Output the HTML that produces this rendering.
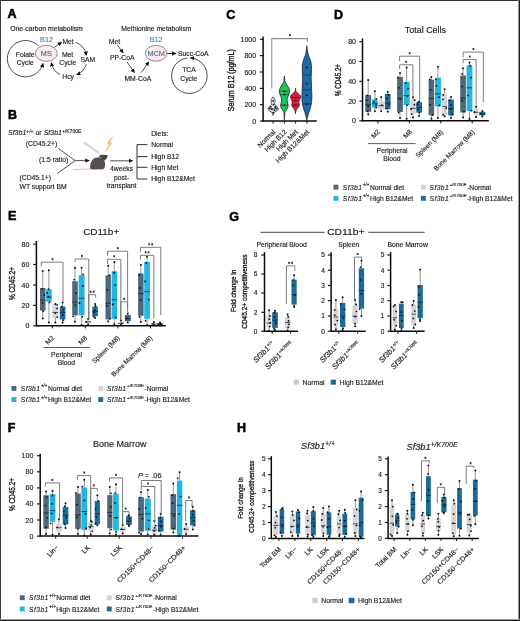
<!DOCTYPE html><html><head><meta charset="utf-8"><style>html,body{margin:0;padding:0;background:#fff;width:520px;height:621px;overflow:hidden}svg{display:block;will-change:transform;font-family:"Liberation Sans",sans-serif}text{stroke:#1e1e1e;stroke-width:0.15px}</style></head><body>
<svg width="520" height="621" viewBox="0 0 520 621" font-family="Liberation Sans, sans-serif" fill="#1e1e1e">
<rect x="0" y="0" width="520" height="621" fill="#fff"/>
<defs><marker id="ah" viewBox="0 0 10 10" refX="9" refY="5" markerWidth="4.3" markerHeight="4.3" markerUnits="userSpaceOnUse" orient="auto"><path d="M0 0L10 5L0 10z" fill="#111"/></marker><marker id="ah2" viewBox="0 0 10 10" refX="9" refY="5" markerWidth="4.2" markerHeight="4.2" markerUnits="userSpaceOnUse" orient="auto"><path d="M0 0L10 5L0 10z" fill="#111"/></marker></defs>
<text x="7.4" y="18.4" font-size="12.5" font-weight="bold" fill="#000" style="stroke:#000;stroke-width:0.55px">A</text>
<text x="10.2" y="31.3" font-size="6.8">One-carbon metabolism</text>
<path d="M38.4 45.8 A18.2 18.2 0 1 0 43.1 63.4" fill="none" stroke="#222" stroke-width="0.8" marker-end="url(#ah)"/>
<ellipse cx="46.3" cy="53.35" rx="10.9" ry="8" fill="#fcecef" stroke="#7d6a70" stroke-width="0.8"/>
<text x="46.3" y="55.9" font-size="7.3" text-anchor="middle" fill="#4a6e90" style="stroke:#4a6e90">MS</text>
<text x="46.5" y="42.1" font-size="7.2" text-anchor="middle" fill="#3b8cc0" style="stroke:#3b8cc0">B12</text>
<text x="25.2" y="57.3" font-size="6.8" text-anchor="middle">Folate</text>
<text x="25.2" y="65.4" font-size="6.8" text-anchor="middle">Cycle</text>
<path d="M54.4 47.4 L61.6 42.2" fill="none" stroke="#222" stroke-width="0.8" marker-end="url(#ah)"/>
<text x="68.1" y="43.7" font-size="6.8" text-anchor="middle">Met</text>
<text x="67.6" y="57.2" font-size="6.8" text-anchor="middle">Met</text>
<text x="67.8" y="65.4" font-size="6.8" text-anchor="middle">Cycle</text>
<text x="87.8" y="62.1" font-size="6.8" text-anchor="middle">SAM</text>
<text x="68.1" y="78.8" font-size="6.8" text-anchor="middle">Hcy</text>
<path d="M75.6 42.2 A17 17 0 0 1 86.4 55.3" fill="none" stroke="#222" stroke-width="0.8" marker-end="url(#ah)"/>
<path d="M86.4 64.2 A17 17 0 0 1 76.6 74.6" fill="none" stroke="#222" stroke-width="0.8" marker-end="url(#ah)"/>
<path d="M60.2 74.8 A17 17 0 0 1 51.4 62.6" fill="none" stroke="#222" stroke-width="0.8" marker-end="url(#ah)"/>
<text x="121.3" y="31.2" font-size="6.8">Methionine metabolism</text>
<text x="114.5" y="44" font-size="6.8" text-anchor="middle">Met</text>
<path d="M117.4 45.2 L123.2 52.9" fill="none" stroke="#222" stroke-width="0.8" marker-end="url(#ah)"/>
<text x="122.2" y="60" font-size="6.8" text-anchor="middle">PP-CoA</text>
<path d="M127 62 L134.5 72.6" fill="none" stroke="#222" stroke-width="0.8" marker-end="url(#ah)"/>
<text x="137.8" y="80.6" font-size="6.8" text-anchor="middle">MM-CoA</text>
<path d="M141.3 72.6 L148.8 61.8" fill="none" stroke="#222" stroke-width="0.8" marker-end="url(#ah)"/>
<text x="156.1" y="42.2" font-size="7.2" text-anchor="middle" fill="#3b8cc0" style="stroke:#3b8cc0">B12</text>
<ellipse cx="156.1" cy="53.3" rx="10.8" ry="7.9" fill="#fcecef" stroke="#7d6a70" stroke-width="0.8"/>
<text x="156.1" y="55.8" font-size="7.3" text-anchor="middle" fill="#4a6e90" style="stroke:#4a6e90">MCM</text>
<path d="M167 53.5 L176 53.5" fill="none" stroke="#222" stroke-width="0.9" marker-end="url(#ah)"/>
<text x="178" y="55.5" font-size="6.8">Succ-CoA</text>
<path d="M187.2 58 A17.8 17.8 0 1 0 190.4 57.9" fill="none" stroke="#222" stroke-width="0.8" marker-end="url(#ah)"/>
<text x="189" y="72.3" font-size="6.8" text-anchor="middle">TCA</text>
<text x="188.8" y="80.7" font-size="6.8" text-anchor="middle">Cycle</text>
<text x="8" y="118.7" font-size="12.5" font-weight="bold" fill="#000" style="stroke:#000;stroke-width:0.55px">B</text>
<text x="8" y="135.2" font-size="7"><tspan font-style="italic">Sf3b1</tspan><tspan font-size="5" dy="-2.6">+/+</tspan><tspan dy="2.6"> or </tspan><tspan font-style="italic">Sf3b1</tspan><tspan font-size="5" dy="-2.6">+/K700E</tspan></text>
<text x="25.8" y="145.7" font-size="6.8">(CD45.2+)</text>
<text x="39.1" y="162" font-size="6.8">(1:5 ratio)</text>
<text x="19.5" y="179.6" font-size="6.8">(CD45.1+)</text>
<text x="19.5" y="188.9" font-size="6.8">WT support BM</text>
<path d="M58.2 148.3 L75.1 160.6 L57.1 173.7" fill="none" stroke="#222" stroke-width="0.8"/>
<path d="M75.1 160.6 L89.2 160.6" fill="none" stroke="#222" stroke-width="0.8" marker-end="url(#ah)"/>
<line x1="84.6" y1="143" x2="98.6" y2="152.8" stroke="#dbe1e4" stroke-width="2.6" stroke-linecap="round"/>
<line x1="86" y1="144" x2="97.4" y2="152" stroke="#a9b5bb" stroke-width="0.7" stroke-dasharray="1.2 1.4"/>
<path d="M112.4 136.6 C110.6 138.4 108.4 141.2 107.2 144.4 L109.2 144.2 C107.8 146.6 106.2 149 105 151.6 C107.8 149.4 110.2 146.2 111.8 142.6 L109.9 142.8 C111 140.6 112 138.8 112.4 136.6 Z" fill="#f5be62" stroke="#f9d896" stroke-width="0.9" stroke-linejoin="round"/>
<path d="M73 170 Q81 168.8 91 169" fill="none" stroke="#ddb0b6" stroke-width="0.9"/>
<path d="M90.2 168.6 C89.6 163 92.2 158 97.2 157.6 C101.2 157.3 104.6 159.6 105 163.2 C105.3 166 104.6 168.7 103 169.3 L91.5 169.4 Z" fill="#564d4f"/>
<path d="M98.8 156 L101 154.8 L107.7 155.1 L106.9 158 L104.8 160.6 L100.4 160.4 Z" fill="#4a4345"/>
<circle cx="100.6" cy="157.6" r="0.9" fill="#a88d90"/>
<path d="M110.2 160.8 L132.6 160.8" fill="none" stroke="#222" stroke-width="0.8" marker-end="url(#ah)"/>
<text x="121.6" y="171" font-size="6.8" text-anchor="middle">4weeks</text>
<text x="121.6" y="179.5" font-size="6.8" text-anchor="middle">post-</text>
<text x="121.6" y="187.9" font-size="6.8" text-anchor="middle">transplant</text>
<path d="M147.4 144.6 H137 V179 H147.4 M137 156.6 H147.4 M137 167.3 H147.4" fill="none" stroke="#262626" stroke-width="0.95"/>
<text x="151.2" y="136.3" font-size="6.8">Diets:</text>
<text x="151.2" y="147.1" font-size="6.8">Normal</text>
<text x="151.2" y="159" font-size="6.8">High B12</text>
<text x="151.2" y="169.7" font-size="6.8">High Met</text>
<text x="151.2" y="181" font-size="6.8">High B12&amp;Met</text>
<text x="226.3" y="18.6" font-size="12.5" font-weight="bold" fill="#000" style="stroke:#000;stroke-width:0.55px">C</text>
<line x1="263.1" y1="36.5" x2="263.1" y2="121.6" stroke="#0a0a0a" stroke-width="1.5"/>
<line x1="259.9" y1="39.3" x2="263.1" y2="39.3" stroke="#1a1a1a" stroke-width="1.2"/>
<text x="256.1" y="41.82" font-size="7" text-anchor="end">1000</text>
<line x1="259.9" y1="55.6" x2="263.1" y2="55.6" stroke="#1a1a1a" stroke-width="1.2"/>
<text x="256.1" y="58.12" font-size="7" text-anchor="end">800</text>
<line x1="259.9" y1="72" x2="263.1" y2="72" stroke="#1a1a1a" stroke-width="1.2"/>
<text x="256.1" y="74.52" font-size="7" text-anchor="end">600</text>
<line x1="259.9" y1="88.4" x2="263.1" y2="88.4" stroke="#1a1a1a" stroke-width="1.2"/>
<text x="256.1" y="90.92" font-size="7" text-anchor="end">400</text>
<line x1="259.9" y1="104.7" x2="263.1" y2="104.7" stroke="#1a1a1a" stroke-width="1.2"/>
<text x="256.1" y="107.22" font-size="7" text-anchor="end">200</text>
<line x1="259.9" y1="121" x2="263.1" y2="121" stroke="#1a1a1a" stroke-width="1.2"/>
<text x="256.1" y="123.52" font-size="7" text-anchor="end">0</text>
<text transform="translate(234.2 80.2) rotate(-90)" font-size="8.4" style="stroke-width:0.38px" text-anchor="middle" textLength="62" lengthAdjust="spacingAndGlyphs">Serum B12 (pg/mL)</text>
<path d="M271.8 88.4 V38.6 H307.5 V42" fill="none" stroke="#8f8f8f" stroke-width="1.1"/>
<path d="M290 33.9l0 2.2M289.05 34.45l1.9 1.1M289.05 35.55l1.9 -1.1" stroke="#222" stroke-width="0.75" fill="none"/>
<path d="M273.1 96.8C273.23 97 273.6 97.58 273.9 98C274.2 98.42 274.68 98.87 274.9 99.3C275.12 99.73 275.18 100.15 275.2 100.6C275.22 101.05 275.1 101.5 275 102C274.9 102.5 274.58 103.1 274.6 103.6C274.62 104.1 274.75 104.52 275.1 105C275.45 105.48 276.23 106 276.7 106.5C277.17 107 277.65 107.58 277.9 108C278.15 108.42 278.23 108.63 278.2 109C278.17 109.37 278.05 109.83 277.7 110.2C277.35 110.57 276.62 110.87 276.1 111.2C275.58 111.53 275 111.82 274.6 112.2C274.2 112.58 273.95 113 273.7 113.5C273.45 114 273.2 114.92 273.1 115.2C273 115.48 273.2 115.48 273.1 115.2C273 114.92 272.75 114 272.5 113.5C272.25 113 272 112.58 271.6 112.2C271.2 111.82 270.62 111.53 270.1 111.2C269.58 110.87 268.85 110.57 268.5 110.2C268.15 109.83 268.03 109.37 268 109C267.97 108.63 268.05 108.42 268.3 108C268.55 107.58 269.03 107 269.5 106.5C269.97 106 270.75 105.48 271.1 105C271.45 104.52 271.58 104.1 271.6 103.6C271.62 103.1 271.3 102.5 271.2 102C271.1 101.5 270.98 101.05 271 100.6C271.02 100.15 271.08 99.73 271.3 99.3C271.52 98.87 272 98.42 272.3 98C272.6 97.58 272.97 97 273.1 96.8Z" fill="#e4e4e4" stroke="#111" stroke-width="0.7" stroke-linejoin="round"/>
<circle cx="273.1" cy="100.8" r="0.9" fill="#111"/>
<circle cx="269.7" cy="108.4" r="0.9" fill="#111"/>
<circle cx="276.5" cy="108.4" r="0.9" fill="#111"/>
<circle cx="271.9" cy="109.4" r="0.9" fill="#111"/>
<circle cx="274.5" cy="110.2" r="0.9" fill="#111"/>
<circle cx="270.9" cy="106.8" r="0.9" fill="#111"/>
<circle cx="275.3" cy="107" r="0.9" fill="#111"/>
<circle cx="273.1" cy="112.6" r="0.9" fill="#111"/>
<circle cx="273.5" cy="104.6" r="0.9" fill="#111"/>
<line x1="268.4" y1="108.6" x2="277.8" y2="108.6" stroke="#111" stroke-width="0.6"/>
<path d="M284.4 75.8C284.46 76.33 284.65 78.05 284.75 79C284.85 79.95 284.79 80.75 285 81.5C285.21 82.25 285.57 82.75 286 83.5C286.43 84.25 287.12 85.17 287.6 86C288.08 86.83 288.58 87.63 288.9 88.5C289.22 89.37 289.48 90.28 289.5 91.2C289.52 92.12 289.27 93.07 289 94C288.73 94.93 288.2 95.88 287.9 96.8C287.6 97.72 287.28 98.63 287.2 99.5C287.12 100.37 287.28 101.25 287.4 102C287.52 102.75 287.78 103.25 287.9 104C288.02 104.75 288.22 105.7 288.1 106.5C287.98 107.3 287.57 108.12 287.2 108.8C286.83 109.48 286.27 110.07 285.9 110.6C285.53 111.13 285.19 111.35 285 112C284.81 112.65 284.85 113.25 284.75 114.5C284.65 115.75 284.46 118.67 284.4 119.5C284.34 120.33 284.46 120.33 284.4 119.5C284.34 118.67 284.15 115.75 284.05 114.5C283.95 113.25 283.99 112.65 283.8 112C283.61 111.35 283.27 111.13 282.9 110.6C282.53 110.07 281.97 109.48 281.6 108.8C281.23 108.12 280.82 107.3 280.7 106.5C280.58 105.7 280.78 104.75 280.9 104C281.02 103.25 281.28 102.75 281.4 102C281.52 101.25 281.68 100.37 281.6 99.5C281.52 98.63 281.2 97.72 280.9 96.8C280.6 95.88 280.07 94.93 279.8 94C279.53 93.07 279.28 92.12 279.3 91.2C279.32 90.28 279.58 89.37 279.9 88.5C280.22 87.63 280.72 86.83 281.2 86C281.68 85.17 282.37 84.25 282.8 83.5C283.23 82.75 283.59 82.25 283.8 81.5C284.01 80.75 283.95 79.95 284.05 79C284.15 78.05 284.34 76.33 284.4 75.8Z" fill="#1fc15a" stroke="#111" stroke-width="0.7" stroke-linejoin="round"/>
<line x1="280.4" y1="91.2" x2="288.4" y2="91.2" stroke="#0b3d1c" stroke-width="0.6"/>
<line x1="280.4" y1="94.6" x2="288.4" y2="94.6" stroke="#0b3d1c" stroke-width="0.6"/>
<line x1="280.4" y1="105.1" x2="288.4" y2="105.1" stroke="#0b3d1c" stroke-width="0.6"/>
<circle cx="284.4" cy="91.2" r="0.9" fill="#111"/>
<circle cx="284.4" cy="94.6" r="0.9" fill="#111"/>
<circle cx="284.4" cy="105.1" r="0.9" fill="#111"/>
<path d="M295.5 88.3C295.56 88.67 295.7 89.88 295.85 90.5C296 91.12 296.04 91.5 296.4 92C296.76 92.5 297.45 93 298 93.5C298.55 94 299.27 94.45 299.7 95C300.13 95.55 300.53 96.17 300.6 96.8C300.67 97.43 300.37 98.18 300.1 98.8C299.83 99.42 299.23 100.03 299 100.5C298.77 100.97 298.7 101.13 298.7 101.6C298.7 102.07 298.92 102.72 299 103.3C299.08 103.88 299.28 104.48 299.2 105.1C299.12 105.72 298.82 106.42 298.5 107C298.18 107.58 297.67 108.13 297.3 108.6C296.93 109.07 296.54 109.32 296.3 109.8C296.06 110.28 295.98 110.9 295.85 111.5C295.72 112.1 295.56 113.08 295.5 113.4C295.44 113.72 295.56 113.72 295.5 113.4C295.44 113.08 295.28 112.1 295.15 111.5C295.02 110.9 294.94 110.28 294.7 109.8C294.46 109.32 294.07 109.07 293.7 108.6C293.33 108.13 292.82 107.58 292.5 107C292.18 106.42 291.88 105.72 291.8 105.1C291.72 104.48 291.92 103.88 292 103.3C292.08 102.72 292.3 102.07 292.3 101.6C292.3 101.13 292.23 100.97 292 100.5C291.77 100.03 291.17 99.42 290.9 98.8C290.63 98.18 290.33 97.43 290.4 96.8C290.47 96.17 290.87 95.55 291.3 95C291.73 94.45 292.45 94 293 93.5C293.55 93 294.24 92.5 294.6 92C294.96 91.5 295 91.12 295.15 90.5C295.3 89.88 295.44 88.67 295.5 88.3Z" fill="#e2183f" stroke="#111" stroke-width="0.7" stroke-linejoin="round"/>
<line x1="291.4" y1="97.6" x2="299.6" y2="97.6" stroke="#4a0612" stroke-width="0.6"/>
<line x1="291.4" y1="100.6" x2="299.6" y2="100.6" stroke="#4a0612" stroke-width="0.6"/>
<line x1="291.4" y1="105.1" x2="299.6" y2="105.1" stroke="#4a0612" stroke-width="0.6"/>
<circle cx="295.5" cy="97.6" r="0.9" fill="#111"/>
<circle cx="295.5" cy="105.1" r="0.9" fill="#111"/>
<path d="M306.9 45.6C306.98 46.33 307.2 48.6 307.4 50C307.6 51.4 307.78 52.77 308.1 54C308.42 55.23 308.9 56.33 309.3 57.4C309.7 58.47 310.18 59.38 310.5 60.4C310.82 61.42 311.03 62.4 311.2 63.5C311.37 64.6 311.47 65.58 311.5 67C311.53 68.42 311.45 70.17 311.4 72C311.35 73.83 311.2 76 311.2 78C311.2 80 311.33 82.08 311.4 84C311.47 85.92 311.52 87.67 311.6 89.5C311.67 91.33 311.81 93.33 311.85 95C311.89 96.67 311.94 98 311.85 99.5C311.76 101 311.52 102.67 311.3 104C311.07 105.33 310.78 106.42 310.5 107.5C310.22 108.58 309.9 109.58 309.6 110.5C309.3 111.42 308.97 112.17 308.7 113C308.43 113.83 308.22 114.7 308 115.5C307.78 116.3 307.58 116.98 307.4 117.8C307.22 118.62 306.98 119.97 306.9 120.4C306.82 120.83 306.98 120.83 306.9 120.4C306.82 119.97 306.58 118.62 306.4 117.8C306.22 116.98 306.02 116.3 305.8 115.5C305.58 114.7 305.37 113.83 305.1 113C304.83 112.17 304.5 111.42 304.2 110.5C303.9 109.58 303.58 108.58 303.3 107.5C303.02 106.42 302.73 105.33 302.5 104C302.27 102.67 302.04 101 301.95 99.5C301.86 98 301.91 96.67 301.95 95C301.99 93.33 302.12 91.33 302.2 89.5C302.27 87.67 302.33 85.92 302.4 84C302.47 82.08 302.6 80 302.6 78C302.6 76 302.45 73.83 302.4 72C302.35 70.17 302.27 68.42 302.3 67C302.33 65.58 302.43 64.6 302.6 63.5C302.77 62.4 302.98 61.42 303.3 60.4C303.62 59.38 304.1 58.47 304.5 57.4C304.9 56.33 305.38 55.23 305.7 54C306.02 52.77 306.2 51.4 306.4 50C306.6 48.6 306.82 46.33 306.9 45.6Z" fill="#1c6aa6" stroke="#111" stroke-width="0.7" stroke-linejoin="round"/>
<line x1="302.6" y1="75" x2="311" y2="75" stroke="#0a2a44" stroke-width="0.6"/>
<line x1="302.6" y1="89.6" x2="311" y2="89.6" stroke="#0a2a44" stroke-width="0.6"/>
<line x1="302.6" y1="103.8" x2="311" y2="103.8" stroke="#0a2a44" stroke-width="0.6"/>
<circle cx="306.8" cy="67.4" r="0.9" fill="#111"/>
<circle cx="306.8" cy="83.6" r="0.9" fill="#111"/>
<circle cx="306.8" cy="95.4" r="0.9" fill="#111"/>
<circle cx="306.8" cy="104.2" r="0.9" fill="#111"/>
<line x1="262.4" y1="121" x2="316.8" y2="121" stroke="#0a0a0a" stroke-width="1.5"/>
<line x1="273.1" y1="121" x2="273.1" y2="123.6" stroke="#1a1a1a" stroke-width="1"/>
<line x1="284.4" y1="121" x2="284.4" y2="123.6" stroke="#1a1a1a" stroke-width="1"/>
<line x1="295.6" y1="121" x2="295.6" y2="123.6" stroke="#1a1a1a" stroke-width="1"/>
<line x1="306.9" y1="121" x2="306.9" y2="123.6" stroke="#1a1a1a" stroke-width="1"/>
<text transform="translate(275.9 132.4) rotate(-45)" font-size="6.85" text-anchor="end">Normal</text>
<text transform="translate(287.2 132.4) rotate(-45)" font-size="6.85" text-anchor="end">High B12</text>
<text transform="translate(298.4 132.4) rotate(-45)" font-size="6.85" text-anchor="end">High Met</text>
<text transform="translate(309.7 132.4) rotate(-45)" font-size="6.85" text-anchor="end">High B12&amp;Met</text>
<text x="334" y="18.6" font-size="12.5" font-weight="bold" fill="#000" style="stroke:#000;stroke-width:0.55px">D</text>
<text x="425.4" y="33" font-size="8.7" text-anchor="middle" textLength="41.2" lengthAdjust="spacingAndGlyphs">Total Cells</text>
<line x1="362.5" y1="38.4" x2="362.5" y2="121.4" stroke="#0a0a0a" stroke-width="1.5"/>
<line x1="359.3" y1="41.7" x2="362.5" y2="41.7" stroke="#1a1a1a" stroke-width="1.2"/>
<text x="356" y="44.22" font-size="7" text-anchor="end">80</text>
<line x1="359.3" y1="61.5" x2="362.5" y2="61.5" stroke="#1a1a1a" stroke-width="1.2"/>
<text x="356" y="64.02" font-size="7" text-anchor="end">60</text>
<line x1="359.3" y1="81.3" x2="362.5" y2="81.3" stroke="#1a1a1a" stroke-width="1.2"/>
<text x="356" y="83.82" font-size="7" text-anchor="end">40</text>
<line x1="359.3" y1="101.1" x2="362.5" y2="101.1" stroke="#1a1a1a" stroke-width="1.2"/>
<text x="356" y="103.62" font-size="7" text-anchor="end">20</text>
<line x1="359.3" y1="120.8" x2="362.5" y2="120.8" stroke="#1a1a1a" stroke-width="1.2"/>
<text x="356" y="123.32" font-size="7" text-anchor="end">0</text>
<text transform="translate(341.2 80) rotate(-90)" font-size="9.2" style="stroke-width:0.38px" text-anchor="middle" textLength="32" lengthAdjust="spacingAndGlyphs">% CD45.2+</text>
<line x1="368.2" y1="79.9" x2="368.2" y2="114.5" stroke="#8a8a8a" stroke-width="0.9"/>
<rect x="365.2" y="95.1" width="6" height="16.7" fill="#4f6879"/>
<line x1="365.2" y1="104.8" x2="371.2" y2="104.8" stroke="#1a1a1a" stroke-width="0.7"/>
<circle cx="368.2" cy="79.9" r="1" fill="#111"/>
<circle cx="368.2" cy="114.5" r="1" fill="#111"/>
<circle cx="367.38" cy="95.45" r="0.9" fill="#111"/>
<circle cx="366.55" cy="100.14" r="0.9" fill="#111"/>
<circle cx="368.16" cy="106.16" r="0.9" fill="#111"/>
<circle cx="367.65" cy="111.31" r="0.9" fill="#111"/>
<line x1="374.9" y1="91.2" x2="374.9" y2="111.3" stroke="#8a8a8a" stroke-width="0.9"/>
<rect x="372" y="99.3" width="5.8" height="8.3" fill="#22b6e3"/>
<line x1="372" y1="103.66" x2="377.8" y2="103.66" stroke="#1a1a1a" stroke-width="0.7"/>
<circle cx="374.9" cy="91.2" r="1" fill="#111"/>
<circle cx="374.9" cy="111.3" r="1" fill="#111"/>
<circle cx="376.22" cy="98.97" r="0.9" fill="#111"/>
<circle cx="374.08" cy="101.93" r="0.9" fill="#111"/>
<circle cx="376.08" cy="105.18" r="0.9" fill="#111"/>
<circle cx="376.12" cy="107.56" r="0.9" fill="#111"/>
<line x1="381.2" y1="96.9" x2="381.2" y2="111.3" stroke="#8a8a8a" stroke-width="0.9"/>
<rect x="378.3" y="101.4" width="5.8" height="7.8" fill="#d6d4da"/>
<line x1="378.3" y1="105.75" x2="384.1" y2="105.75" stroke="#1a1a1a" stroke-width="0.7"/>
<circle cx="381.2" cy="96.9" r="1" fill="#111"/>
<circle cx="381.2" cy="111.3" r="1" fill="#111"/>
<circle cx="381.71" cy="105.07" r="0.9" fill="#111"/>
<line x1="387.75" y1="92" x2="387.75" y2="111.8" stroke="#8a8a8a" stroke-width="0.9"/>
<rect x="384.9" y="94" width="5.7" height="15.2" fill="#1b6a98"/>
<line x1="384.9" y1="102.98" x2="390.6" y2="102.98" stroke="#1a1a1a" stroke-width="0.7"/>
<circle cx="387.75" cy="92" r="1" fill="#111"/>
<circle cx="387.75" cy="111.8" r="1" fill="#111"/>
<circle cx="388.61" cy="94.87" r="0.9" fill="#111"/>
<circle cx="387.07" cy="98.46" r="0.9" fill="#111"/>
<circle cx="388.58" cy="104.32" r="0.9" fill="#111"/>
<circle cx="386.44" cy="108.32" r="0.9" fill="#111"/>
<line x1="400" y1="73" x2="400" y2="118.1" stroke="#8a8a8a" stroke-width="0.9"/>
<rect x="397.1" y="77" width="5.8" height="35" fill="#4f6879"/>
<line x1="397.1" y1="98.23" x2="402.9" y2="98.23" stroke="#1a1a1a" stroke-width="0.7"/>
<circle cx="400" cy="73" r="1" fill="#111"/>
<circle cx="400" cy="118.1" r="1" fill="#111"/>
<circle cx="398.14" cy="77.41" r="0.9" fill="#111"/>
<circle cx="398.97" cy="87.74" r="0.9" fill="#111"/>
<circle cx="400.06" cy="99.32" r="0.9" fill="#111"/>
<circle cx="398.71" cy="112.61" r="0.9" fill="#111"/>
<line x1="406.65" y1="67.4" x2="406.65" y2="118.7" stroke="#8a8a8a" stroke-width="0.9"/>
<rect x="403.6" y="81.9" width="6.1" height="23.1" fill="#22b6e3"/>
<line x1="403.6" y1="95.61" x2="409.7" y2="95.61" stroke="#1a1a1a" stroke-width="0.7"/>
<circle cx="406.65" cy="67.4" r="1" fill="#111"/>
<circle cx="406.65" cy="118.7" r="1" fill="#111"/>
<circle cx="405.82" cy="83.21" r="0.9" fill="#111"/>
<circle cx="408.08" cy="88.53" r="0.9" fill="#111"/>
<circle cx="407.52" cy="95.88" r="0.9" fill="#111"/>
<circle cx="407.11" cy="105.14" r="0.9" fill="#111"/>
<line x1="413.05" y1="97.3" x2="413.05" y2="117.4" stroke="#8a8a8a" stroke-width="0.9"/>
<rect x="410.3" y="100.3" width="5.5" height="13.7" fill="#d6d4da"/>
<line x1="410.3" y1="108.38" x2="415.8" y2="108.38" stroke="#1a1a1a" stroke-width="0.7"/>
<circle cx="413.05" cy="97.3" r="1" fill="#111"/>
<circle cx="413.05" cy="117.4" r="1" fill="#111"/>
<circle cx="414.61" cy="100.13" r="0.9" fill="#111"/>
<circle cx="414.33" cy="104.6" r="0.9" fill="#111"/>
<circle cx="411.19" cy="109" r="0.9" fill="#111"/>
<circle cx="411.55" cy="114.1" r="0.9" fill="#111"/>
<line x1="419.15" y1="101.4" x2="419.15" y2="116" stroke="#8a8a8a" stroke-width="0.9"/>
<rect x="416.3" y="102.3" width="5.7" height="10.3" fill="#1b6a98"/>
<line x1="416.3" y1="107.7" x2="422" y2="107.7" stroke="#1a1a1a" stroke-width="0.7"/>
<circle cx="419.15" cy="101.4" r="1" fill="#111"/>
<circle cx="419.15" cy="116" r="1" fill="#111"/>
<circle cx="417.75" cy="102.68" r="0.9" fill="#111"/>
<circle cx="417.44" cy="104.88" r="0.9" fill="#111"/>
<circle cx="417.94" cy="109.49" r="0.9" fill="#111"/>
<circle cx="419.35" cy="112.59" r="0.9" fill="#111"/>
<line x1="431.4" y1="77" x2="431.4" y2="118.8" stroke="#8a8a8a" stroke-width="0.9"/>
<rect x="428.6" y="79.7" width="5.6" height="35.6" fill="#4f6879"/>
<line x1="428.6" y1="98.4" x2="434.2" y2="98.4" stroke="#1a1a1a" stroke-width="0.7"/>
<circle cx="431.4" cy="77" r="1" fill="#111"/>
<circle cx="431.4" cy="118.8" r="1" fill="#111"/>
<circle cx="429.83" cy="79.5" r="0.9" fill="#111"/>
<circle cx="430.65" cy="89.85" r="0.9" fill="#111"/>
<circle cx="429.92" cy="104.74" r="0.9" fill="#111"/>
<circle cx="432.54" cy="115.02" r="0.9" fill="#111"/>
<line x1="437.95" y1="66.7" x2="437.95" y2="118.1" stroke="#8a8a8a" stroke-width="0.9"/>
<rect x="435" y="77.7" width="5.9" height="28.7" fill="#22b6e3"/>
<line x1="435" y1="93.86" x2="440.9" y2="93.86" stroke="#1a1a1a" stroke-width="0.7"/>
<circle cx="437.95" cy="66.7" r="1" fill="#111"/>
<circle cx="437.95" cy="118.1" r="1" fill="#111"/>
<circle cx="435.97" cy="79.29" r="0.9" fill="#111"/>
<circle cx="436.54" cy="85.79" r="0.9" fill="#111"/>
<circle cx="438.98" cy="97.11" r="0.9" fill="#111"/>
<circle cx="439.32" cy="105.31" r="0.9" fill="#111"/>
<line x1="444.6" y1="89.3" x2="444.6" y2="116.2" stroke="#8a8a8a" stroke-width="0.9"/>
<rect x="442.2" y="93.7" width="4.8" height="21.7" fill="#d6d4da"/>
<line x1="442.2" y1="106.5" x2="447" y2="106.5" stroke="#1a1a1a" stroke-width="0.7"/>
<circle cx="444.6" cy="89.3" r="1" fill="#111"/>
<circle cx="444.6" cy="116.2" r="1" fill="#111"/>
<circle cx="443.1" cy="94.98" r="0.9" fill="#111"/>
<circle cx="443.02" cy="99.33" r="0.9" fill="#111"/>
<circle cx="446.26" cy="108.27" r="0.9" fill="#111"/>
<circle cx="443.05" cy="114.73" r="0.9" fill="#111"/>
<line x1="451" y1="97" x2="451" y2="117.9" stroke="#8a8a8a" stroke-width="0.9"/>
<rect x="448.2" y="99.5" width="5.6" height="15.9" fill="#1b6a98"/>
<line x1="448.2" y1="108.69" x2="453.8" y2="108.69" stroke="#1a1a1a" stroke-width="0.7"/>
<circle cx="451" cy="97" r="1" fill="#111"/>
<circle cx="451" cy="117.9" r="1" fill="#111"/>
<circle cx="449.66" cy="100.28" r="0.9" fill="#111"/>
<circle cx="450.76" cy="104.96" r="0.9" fill="#111"/>
<circle cx="450.99" cy="109.19" r="0.9" fill="#111"/>
<circle cx="452.1" cy="114.45" r="0.9" fill="#111"/>
<line x1="463.05" y1="68.3" x2="463.05" y2="117.6" stroke="#8a8a8a" stroke-width="0.9"/>
<rect x="460.2" y="75.6" width="5.7" height="36.9" fill="#4f6879"/>
<line x1="460.2" y1="98.08" x2="465.9" y2="98.08" stroke="#1a1a1a" stroke-width="0.7"/>
<circle cx="463.05" cy="68.3" r="1" fill="#111"/>
<circle cx="463.05" cy="117.6" r="1" fill="#111"/>
<circle cx="462.22" cy="73.96" r="0.9" fill="#111"/>
<circle cx="461.93" cy="86.45" r="0.9" fill="#111"/>
<circle cx="462.03" cy="100.65" r="0.9" fill="#111"/>
<circle cx="463.9" cy="111.53" r="0.9" fill="#111"/>
<line x1="469.5" y1="62.5" x2="469.5" y2="119" stroke="#8a8a8a" stroke-width="0.9"/>
<rect x="466.6" y="65.4" width="5.8" height="45.7" fill="#22b6e3"/>
<line x1="466.6" y1="87.88" x2="472.4" y2="87.88" stroke="#1a1a1a" stroke-width="0.7"/>
<circle cx="469.5" cy="62.5" r="1" fill="#111"/>
<circle cx="469.5" cy="119" r="1" fill="#111"/>
<circle cx="470.2" cy="65.95" r="0.9" fill="#111"/>
<circle cx="471.04" cy="77.54" r="0.9" fill="#111"/>
<circle cx="468.01" cy="95.42" r="0.9" fill="#111"/>
<circle cx="471.48" cy="110.72" r="0.9" fill="#111"/>
<line x1="476.05" y1="106.7" x2="476.05" y2="117" stroke="#8a8a8a" stroke-width="0.9"/>
<rect x="473.6" y="108.9" width="4.9" height="6.5" fill="#d6d4da"/>
<line x1="473.6" y1="112.32" x2="478.5" y2="112.32" stroke="#1a1a1a" stroke-width="0.7"/>
<circle cx="476.05" cy="106.7" r="1" fill="#111"/>
<circle cx="476.05" cy="117" r="1" fill="#111"/>
<circle cx="474.54" cy="111.98" r="0.9" fill="#111"/>
<line x1="482.3" y1="111" x2="482.3" y2="116.5" stroke="#8a8a8a" stroke-width="0.9"/>
<rect x="479.3" y="111.8" width="6" height="3.6" fill="#1b6a98"/>
<line x1="479.3" y1="113.94" x2="485.3" y2="113.94" stroke="#1a1a1a" stroke-width="0.7"/>
<circle cx="482.3" cy="111" r="1" fill="#111"/>
<circle cx="482.3" cy="116.5" r="1" fill="#111"/>
<circle cx="481.13" cy="113.54" r="0.9" fill="#111"/>
<path d="M399.6 61.2V56.2H419.7V100.3" fill="none" stroke="#6e6e6e" stroke-width="0.9"/>
<path d="M409.6 52.1l0 2.2M408.65 52.65l1.9 1.1M408.65 53.75l1.9 -1.1" stroke="#222" stroke-width="0.75" fill="none"/>
<path d="M399.6 68.9V64.8H412.9V97.4" fill="none" stroke="#6e6e6e" stroke-width="0.9"/>
<path d="M406.2 60.7l0 2.2M405.25 61.25l1.9 1.1M405.25 62.35l1.9 -1.1" stroke="#222" stroke-width="0.75" fill="none"/>
<path d="M463.1 57.5V52.1H483.3V102.4" fill="none" stroke="#6e6e6e" stroke-width="0.9"/>
<path d="M473.4 48l0 2.2M472.45 48.55l1.9 1.1M472.45 49.65l1.9 -1.1" stroke="#222" stroke-width="0.75" fill="none"/>
<path d="M463.1 63.3V59.6H476.2V106" fill="none" stroke="#6e6e6e" stroke-width="0.9"/>
<path d="M469.8 55.5l0 2.2M468.85 56.05l1.9 1.1M468.85 57.15l1.9 -1.1" stroke="#222" stroke-width="0.75" fill="none"/>
<line x1="361.8" y1="120.8" x2="488.8" y2="120.8" stroke="#0a0a0a" stroke-width="1.5"/>
<line x1="378" y1="120.8" x2="378" y2="123.4" stroke="#1a1a1a" stroke-width="1"/>
<line x1="409.4" y1="120.8" x2="409.4" y2="123.4" stroke="#1a1a1a" stroke-width="1"/>
<line x1="440.8" y1="120.8" x2="440.8" y2="123.4" stroke="#1a1a1a" stroke-width="1"/>
<line x1="472.2" y1="120.8" x2="472.2" y2="123.4" stroke="#1a1a1a" stroke-width="1"/>
<text transform="translate(380.4 132.2) rotate(-45)" font-size="6.6" text-anchor="end">M2</text>
<text transform="translate(412.4 132.2) rotate(-45)" font-size="6.6" text-anchor="end">M8</text>
<text transform="translate(443.6 132.6) rotate(-45)" font-size="6.6" text-anchor="end">Spleen (M8)</text>
<text transform="translate(475 132.6) rotate(-45)" font-size="6.6" text-anchor="end">Bone Marrow (M8)</text>
<line x1="368.1" y1="143.6" x2="415.6" y2="143.6" stroke="#333" stroke-width="0.8"/>
<text x="392.1" y="153.2" font-size="6.8" text-anchor="middle">Peripheral</text>
<text x="391.9" y="161" font-size="6.8" text-anchor="middle">Blood</text>
<rect x="333.5" y="184.7" width="4.9" height="4.9" fill="#4f6879"/>
<rect x="333.5" y="195.9" width="4.9" height="4.9" fill="#22b6e3"/>
<rect x="420.9" y="184.7" width="4.9" height="4.9" fill="#d6d4da"/>
<rect x="420.9" y="195.9" width="4.9" height="4.9" fill="#1b6a98"/>
<text x="342.8" y="189.8" font-size="6.7"><tspan font-style="italic" letter-spacing="0.42">Sf3b1</tspan><tspan font-size="4.5" dx="0.6" dy="-3.69">+/+</tspan><tspan dx="0.5" dy="3.69">Normal diet</tspan></text>
<text x="342.8" y="201" font-size="6.7"><tspan font-style="italic" letter-spacing="0.42">Sf3b1</tspan><tspan font-size="4.5" dx="0.6" dy="-3.69">+/+</tspan><tspan dx="0.5" dy="3.69">High B12&amp;Met</tspan></text>
<text x="429.5" y="189.8" font-size="6.7"><tspan font-style="italic" letter-spacing="0.42">Sf3b1</tspan><tspan font-size="4.4" dx="0.6" dy="-3.69">+/K700E</tspan><tspan dx="0.5" dy="3.69">-Normal</tspan></text>
<text x="429.5" y="201" font-size="6.7"><tspan font-style="italic" letter-spacing="0.42">Sf3b1</tspan><tspan font-size="4.4" dx="0.6" dy="-3.69">+/K700E</tspan><tspan dx="0.5" dy="3.69">-High B12&amp;Met</tspan></text>
<text x="8" y="220.4" font-size="12.5" font-weight="bold" fill="#000" style="stroke:#000;stroke-width:0.55px">E</text>
<text x="101.2" y="235" font-size="8.7" text-anchor="middle" textLength="36.1" lengthAdjust="spacingAndGlyphs">CD11b+</text>
<line x1="36.4" y1="241" x2="36.4" y2="326.4" stroke="#0a0a0a" stroke-width="1.5"/>
<line x1="33.2" y1="244.1" x2="36.4" y2="244.1" stroke="#1a1a1a" stroke-width="1.2"/>
<text x="29.4" y="246.62" font-size="7" text-anchor="end">80</text>
<line x1="33.2" y1="264.5" x2="36.4" y2="264.5" stroke="#1a1a1a" stroke-width="1.2"/>
<text x="29.4" y="267.02" font-size="7" text-anchor="end">60</text>
<line x1="33.2" y1="285" x2="36.4" y2="285" stroke="#1a1a1a" stroke-width="1.2"/>
<text x="29.4" y="287.52" font-size="7" text-anchor="end">40</text>
<line x1="33.2" y1="305.4" x2="36.4" y2="305.4" stroke="#1a1a1a" stroke-width="1.2"/>
<text x="29.4" y="307.92" font-size="7" text-anchor="end">20</text>
<line x1="33.2" y1="325.8" x2="36.4" y2="325.8" stroke="#1a1a1a" stroke-width="1.2"/>
<text x="29.4" y="328.32" font-size="7" text-anchor="end">0</text>
<text transform="translate(14.5 283.5) rotate(-90)" font-size="9.2" style="stroke-width:0.38px" text-anchor="middle" textLength="33" lengthAdjust="spacingAndGlyphs">% CD45.2+</text>
<line x1="42.75" y1="271" x2="42.75" y2="318.6" stroke="#8a8a8a" stroke-width="0.9"/>
<rect x="40" y="288" width="5.5" height="22.5" fill="#4f6879"/>
<line x1="40" y1="300.03" x2="45.5" y2="300.03" stroke="#1a1a1a" stroke-width="0.7"/>
<circle cx="42.75" cy="271" r="1" fill="#111"/>
<circle cx="42.75" cy="318.6" r="1" fill="#111"/>
<circle cx="42.29" cy="288.78" r="0.9" fill="#111"/>
<circle cx="44.34" cy="295.1" r="0.9" fill="#111"/>
<circle cx="42.66" cy="302.81" r="0.9" fill="#111"/>
<circle cx="43.23" cy="311.17" r="0.9" fill="#111"/>
<line x1="48.9" y1="270.3" x2="48.9" y2="322.6" stroke="#8a8a8a" stroke-width="0.9"/>
<rect x="46.1" y="289.3" width="5.6" height="12.4" fill="#22b6e3"/>
<line x1="46.1" y1="297.12" x2="51.7" y2="297.12" stroke="#1a1a1a" stroke-width="0.7"/>
<circle cx="48.9" cy="270.3" r="1" fill="#111"/>
<circle cx="48.9" cy="322.6" r="1" fill="#111"/>
<circle cx="48.52" cy="289.08" r="0.9" fill="#111"/>
<circle cx="47.14" cy="292.93" r="0.9" fill="#111"/>
<circle cx="48.72" cy="296.87" r="0.9" fill="#111"/>
<circle cx="49.51" cy="302.33" r="0.9" fill="#111"/>
<line x1="55.35" y1="304" x2="55.35" y2="322.6" stroke="#8a8a8a" stroke-width="0.9"/>
<rect x="52.5" y="304.1" width="5.7" height="13.7" fill="#d6d4da"/>
<line x1="52.5" y1="312.43" x2="58.2" y2="312.43" stroke="#1a1a1a" stroke-width="0.7"/>
<circle cx="55.35" cy="304" r="1" fill="#111"/>
<circle cx="55.35" cy="322.6" r="1" fill="#111"/>
<circle cx="57.14" cy="304.79" r="0.9" fill="#111"/>
<circle cx="57.08" cy="308.47" r="0.9" fill="#111"/>
<circle cx="55.34" cy="313.22" r="0.9" fill="#111"/>
<circle cx="57.23" cy="317.07" r="0.9" fill="#111"/>
<line x1="62.6" y1="302.5" x2="62.6" y2="322.6" stroke="#8a8a8a" stroke-width="0.9"/>
<rect x="59.8" y="306.5" width="5.6" height="12.9" fill="#1b6a98"/>
<line x1="59.8" y1="312.38" x2="65.4" y2="312.38" stroke="#1a1a1a" stroke-width="0.7"/>
<circle cx="62.6" cy="302.5" r="1" fill="#111"/>
<circle cx="62.6" cy="322.6" r="1" fill="#111"/>
<circle cx="61.88" cy="306.67" r="0.9" fill="#111"/>
<circle cx="63.19" cy="309.78" r="0.9" fill="#111"/>
<circle cx="62.98" cy="315.02" r="0.9" fill="#111"/>
<circle cx="63.44" cy="320.03" r="0.9" fill="#111"/>
<line x1="75" y1="267.8" x2="75" y2="321.8" stroke="#8a8a8a" stroke-width="0.9"/>
<rect x="72.2" y="281.2" width="5.6" height="34.1" fill="#4f6879"/>
<line x1="72.2" y1="302.17" x2="77.8" y2="302.17" stroke="#1a1a1a" stroke-width="0.7"/>
<circle cx="75" cy="267.8" r="1" fill="#111"/>
<circle cx="75" cy="321.8" r="1" fill="#111"/>
<circle cx="74.14" cy="279.58" r="0.9" fill="#111"/>
<circle cx="75.95" cy="293.16" r="0.9" fill="#111"/>
<circle cx="75.35" cy="305.03" r="0.9" fill="#111"/>
<circle cx="73.09" cy="316.31" r="0.9" fill="#111"/>
<line x1="81.6" y1="267.8" x2="81.6" y2="325" stroke="#8a8a8a" stroke-width="0.9"/>
<rect x="78.6" y="275.1" width="6" height="40.2" fill="#22b6e3"/>
<line x1="78.6" y1="298.25" x2="84.6" y2="298.25" stroke="#1a1a1a" stroke-width="0.7"/>
<circle cx="81.6" cy="267.8" r="1" fill="#111"/>
<circle cx="81.6" cy="325" r="1" fill="#111"/>
<circle cx="83.04" cy="274.31" r="0.9" fill="#111"/>
<circle cx="82.87" cy="285.93" r="0.9" fill="#111"/>
<circle cx="79.56" cy="303.13" r="0.9" fill="#111"/>
<circle cx="82.35" cy="316.8" r="0.9" fill="#111"/>
<line x1="88.1" y1="319" x2="88.1" y2="324.5" stroke="#8a8a8a" stroke-width="0.9"/>
<rect x="85.2" y="320.5" width="5.8" height="2.9" fill="#d6d4da"/>
<line x1="85.2" y1="321.87" x2="91" y2="321.87" stroke="#1a1a1a" stroke-width="0.7"/>
<circle cx="88.1" cy="319" r="1" fill="#111"/>
<circle cx="88.1" cy="324.5" r="1" fill="#111"/>
<circle cx="86.3" cy="321.79" r="0.9" fill="#111"/>
<line x1="95.05" y1="304.1" x2="95.05" y2="318" stroke="#8a8a8a" stroke-width="0.9"/>
<rect x="92.3" y="306.5" width="5.5" height="9.7" fill="#1b6a98"/>
<line x1="92.3" y1="311.4" x2="97.8" y2="311.4" stroke="#1a1a1a" stroke-width="0.7"/>
<circle cx="95.05" cy="304.1" r="1" fill="#111"/>
<circle cx="95.05" cy="318" r="1" fill="#111"/>
<circle cx="95.55" cy="306.01" r="0.9" fill="#111"/>
<circle cx="94.88" cy="309.89" r="0.9" fill="#111"/>
<circle cx="94.11" cy="312.28" r="0.9" fill="#111"/>
<circle cx="93.6" cy="316.51" r="0.9" fill="#111"/>
<line x1="108.2" y1="265.8" x2="108.2" y2="321.5" stroke="#8a8a8a" stroke-width="0.9"/>
<rect x="105.5" y="275.3" width="5.4" height="44" fill="#4f6879"/>
<line x1="105.5" y1="303.25" x2="110.9" y2="303.25" stroke="#1a1a1a" stroke-width="0.7"/>
<circle cx="108.2" cy="265.8" r="1" fill="#111"/>
<circle cx="108.2" cy="321.5" r="1" fill="#111"/>
<circle cx="109.42" cy="275.17" r="0.9" fill="#111"/>
<circle cx="107.38" cy="289.89" r="0.9" fill="#111"/>
<circle cx="106.88" cy="305.74" r="0.9" fill="#111"/>
<circle cx="109.98" cy="318.63" r="0.9" fill="#111"/>
<line x1="114.35" y1="261.9" x2="114.35" y2="324.2" stroke="#8a8a8a" stroke-width="0.9"/>
<rect x="111.6" y="271.2" width="5.5" height="47.6" fill="#22b6e3"/>
<line x1="111.6" y1="299.65" x2="117.1" y2="299.65" stroke="#1a1a1a" stroke-width="0.7"/>
<circle cx="114.35" cy="261.9" r="1" fill="#111"/>
<circle cx="114.35" cy="324.2" r="1" fill="#111"/>
<circle cx="113.95" cy="272.75" r="0.9" fill="#111"/>
<circle cx="115.05" cy="285.09" r="0.9" fill="#111"/>
<circle cx="112.79" cy="304.47" r="0.9" fill="#111"/>
<circle cx="115.7" cy="317.52" r="0.9" fill="#111"/>
<line x1="120.85" y1="320.4" x2="120.85" y2="325" stroke="#8a8a8a" stroke-width="0.9"/>
<rect x="118.1" y="322.3" width="5.5" height="2.1" fill="#d6d4da"/>
<line x1="118.1" y1="323.34" x2="123.6" y2="323.34" stroke="#1a1a1a" stroke-width="0.7"/>
<circle cx="120.85" cy="320.4" r="1" fill="#111"/>
<circle cx="120.85" cy="325" r="1" fill="#111"/>
<circle cx="121.98" cy="323.33" r="0.9" fill="#111"/>
<line x1="127.8" y1="313.5" x2="127.8" y2="322.5" stroke="#8a8a8a" stroke-width="0.9"/>
<rect x="124.9" y="315" width="5.8" height="6.2" fill="#1b6a98"/>
<line x1="124.9" y1="318.57" x2="130.7" y2="318.57" stroke="#1a1a1a" stroke-width="0.7"/>
<circle cx="127.8" cy="313.5" r="1" fill="#111"/>
<circle cx="127.8" cy="322.5" r="1" fill="#111"/>
<circle cx="126.34" cy="318.43" r="0.9" fill="#111"/>
<line x1="140.85" y1="265" x2="140.85" y2="321.9" stroke="#8a8a8a" stroke-width="0.9"/>
<rect x="138.1" y="273.5" width="5.5" height="42.3" fill="#4f6879"/>
<line x1="138.1" y1="293.65" x2="143.6" y2="293.65" stroke="#1a1a1a" stroke-width="0.7"/>
<circle cx="140.85" cy="265" r="1" fill="#111"/>
<circle cx="140.85" cy="321.9" r="1" fill="#111"/>
<circle cx="139.34" cy="274.67" r="0.9" fill="#111"/>
<circle cx="140.12" cy="288.01" r="0.9" fill="#111"/>
<circle cx="140.77" cy="299.95" r="0.9" fill="#111"/>
<circle cx="139.49" cy="316.95" r="0.9" fill="#111"/>
<line x1="147.05" y1="256.8" x2="147.05" y2="325" stroke="#8a8a8a" stroke-width="0.9"/>
<rect x="144.2" y="261.9" width="5.7" height="56.9" fill="#22b6e3"/>
<line x1="144.2" y1="291.74" x2="149.9" y2="291.74" stroke="#1a1a1a" stroke-width="0.7"/>
<circle cx="147.05" cy="256.8" r="1" fill="#111"/>
<circle cx="147.05" cy="325" r="1" fill="#111"/>
<circle cx="146.34" cy="263" r="0.9" fill="#111"/>
<circle cx="145.12" cy="281.46" r="0.9" fill="#111"/>
<circle cx="148.66" cy="299.72" r="0.9" fill="#111"/>
<circle cx="145.57" cy="320.76" r="0.9" fill="#111"/>
<line x1="153.95" y1="322" x2="153.95" y2="325.3" stroke="#8a8a8a" stroke-width="0.9"/>
<rect x="151.2" y="323" width="5.5" height="2" fill="#d6d4da"/>
<line x1="151.2" y1="323.98" x2="156.7" y2="323.98" stroke="#1a1a1a" stroke-width="0.7"/>
<circle cx="153.95" cy="322" r="1" fill="#111"/>
<circle cx="153.95" cy="325.3" r="1" fill="#111"/>
<circle cx="153.11" cy="324.08" r="0.9" fill="#111"/>
<line x1="160" y1="322.5" x2="160" y2="325.3" stroke="#8a8a8a" stroke-width="0.9"/>
<rect x="157.3" y="323" width="5.4" height="2" fill="#1b6a98"/>
<line x1="157.3" y1="324.26" x2="162.7" y2="324.26" stroke="#1a1a1a" stroke-width="0.7"/>
<circle cx="160" cy="322.5" r="1" fill="#111"/>
<circle cx="160" cy="325.3" r="1" fill="#111"/>
<circle cx="160.9" cy="324.03" r="0.9" fill="#111"/>
<path d="M41.3 266.2V262.2H63V301.7" fill="none" stroke="#6e6e6e" stroke-width="0.9"/>
<path d="M52.5 258.1l0 2.2M51.55 258.65l1.9 1.1M51.55 259.75l1.9 -1.1" stroke="#222" stroke-width="0.75" fill="none"/>
<path d="M75.1 262.2V259H88.8V319.4" fill="none" stroke="#6e6e6e" stroke-width="0.9"/>
<path d="M81.9 254.9l0 2.2M80.95 255.45l1.9 1.1M80.95 256.55l1.9 -1.1" stroke="#222" stroke-width="0.75" fill="none"/>
<path d="M88.8 319.4V294.7H95.7V297.6" fill="none" stroke="#6e6e6e" stroke-width="0.9"/>
<path d="M90.7 290.6l0 2.2M89.75 291.15l1.9 1.1M89.75 292.25l1.9 -1.1" stroke="#222" stroke-width="0.75" fill="none"/>
<path d="M93.7 290.6l0 2.2M92.75 291.15l1.9 1.1M92.75 292.25l1.9 -1.1" stroke="#222" stroke-width="0.75" fill="none"/>
<path d="M107.6 255.8V251.2H127.6V311.9" fill="none" stroke="#6e6e6e" stroke-width="0.9"/>
<path d="M117.8 247.1l0 2.2M116.85 247.65l1.9 1.1M116.85 248.75l1.9 -1.1" stroke="#222" stroke-width="0.75" fill="none"/>
<path d="M107.6 264.2V259.3H120.8V320.4" fill="none" stroke="#6e6e6e" stroke-width="0.9"/>
<path d="M114.2 255.2l0 2.2M113.25 255.75l1.9 1.1M113.25 256.85l1.9 -1.1" stroke="#222" stroke-width="0.75" fill="none"/>
<path d="M120.8 320.4V301.9H127.6V307.3" fill="none" stroke="#6e6e6e" stroke-width="0.9"/>
<path d="M124.2 297.8l0 2.2M123.25 298.35l1.9 1.1M123.25 299.45l1.9 -1.1" stroke="#222" stroke-width="0.75" fill="none"/>
<path d="M140.4 251.9V247.3H160.8V315" fill="none" stroke="#6e6e6e" stroke-width="0.9"/>
<path d="M149.2 243.2l0 2.2M148.25 243.75l1.9 1.1M148.25 244.85l1.9 -1.1" stroke="#222" stroke-width="0.75" fill="none"/>
<path d="M152.2 243.2l0 2.2M151.25 243.75l1.9 1.1M151.25 244.85l1.9 -1.1" stroke="#222" stroke-width="0.75" fill="none"/>
<path d="M140.4 259.6V255.3H153.8V318.8" fill="none" stroke="#6e6e6e" stroke-width="0.9"/>
<path d="M145.6 251.2l0 2.2M144.65 251.75l1.9 1.1M144.65 252.85l1.9 -1.1" stroke="#222" stroke-width="0.75" fill="none"/>
<path d="M148.6 251.2l0 2.2M147.65 251.75l1.9 1.1M147.65 252.85l1.9 -1.1" stroke="#222" stroke-width="0.75" fill="none"/>
<line x1="35.7" y1="325.8" x2="165.8" y2="325.8" stroke="#0a0a0a" stroke-width="1.5"/>
<line x1="52.3" y1="325.8" x2="52.3" y2="328.4" stroke="#1a1a1a" stroke-width="1"/>
<line x1="85.3" y1="325.8" x2="85.3" y2="328.4" stroke="#1a1a1a" stroke-width="1"/>
<line x1="117.9" y1="325.8" x2="117.9" y2="328.4" stroke="#1a1a1a" stroke-width="1"/>
<line x1="150.5" y1="325.8" x2="150.5" y2="328.4" stroke="#1a1a1a" stroke-width="1"/>
<text transform="translate(54.5 338.4) rotate(-45)" font-size="6.6" text-anchor="end">M2</text>
<text transform="translate(87.5 338.4) rotate(-45)" font-size="6.6" text-anchor="end">M8</text>
<text transform="translate(120.1 338.4) rotate(-45)" font-size="6.6" text-anchor="end">Spleen (M8)</text>
<text transform="translate(152.7 338.4) rotate(-45)" font-size="6.6" text-anchor="end">Bone Marrow (M8)</text>
<line x1="43.5" y1="347.5" x2="89.8" y2="347.5" stroke="#333" stroke-width="0.8"/>
<text x="66.6" y="357.4" font-size="6.8" text-anchor="middle">Peripheral</text>
<text x="66.4" y="365.4" font-size="6.8" text-anchor="middle">Blood</text>
<rect x="11.5" y="386" width="4.9" height="4.9" fill="#4f6879"/>
<rect x="11.5" y="397.1" width="4.9" height="4.9" fill="#22b6e3"/>
<rect x="98.3" y="386" width="4.9" height="4.9" fill="#d6d4da"/>
<rect x="98.3" y="397.1" width="4.9" height="4.9" fill="#1b6a98"/>
<text x="20.8" y="391.1" font-size="6.7"><tspan font-style="italic" letter-spacing="0.42">Sf3b1</tspan><tspan font-size="4.5" dx="0.6" dy="-3.69">+/+</tspan><tspan dx="0.5" dy="3.69">Normal diet</tspan></text>
<text x="20.8" y="402.2" font-size="6.7"><tspan font-style="italic" letter-spacing="0.42">Sf3b1</tspan><tspan font-size="4.5" dx="0.6" dy="-3.69">+/+</tspan><tspan dx="0.5" dy="3.69">High B12&amp;Met</tspan></text>
<text x="106.9" y="391.1" font-size="6.7"><tspan font-style="italic" letter-spacing="0.42">Sf3b1</tspan><tspan font-size="4.4" dx="0.6" dy="-3.69">+/K700E</tspan><tspan dx="0.5" dy="3.69">-Normal</tspan></text>
<text x="106.9" y="402.2" font-size="6.7"><tspan font-style="italic" letter-spacing="0.42">Sf3b1</tspan><tspan font-size="4.4" dx="0.6" dy="-3.69">+/K700E</tspan><tspan dx="0.5" dy="3.69">-High B12&amp;Met</tspan></text>
<text x="7.7" y="431.5" font-size="12.5" font-weight="bold" fill="#000" style="stroke:#000;stroke-width:0.55px">F</text>
<text x="119.8" y="446.6" font-size="9" text-anchor="middle" textLength="53.4" lengthAdjust="spacingAndGlyphs">Bone Marrow</text>
<line x1="40.2" y1="453.8" x2="40.2" y2="536.7" stroke="#0a0a0a" stroke-width="1.5"/>
<line x1="37" y1="455.7" x2="40.2" y2="455.7" stroke="#1a1a1a" stroke-width="1.2"/>
<text x="33.3" y="458.22" font-size="7" text-anchor="end">100</text>
<line x1="37" y1="471.8" x2="40.2" y2="471.8" stroke="#1a1a1a" stroke-width="1.2"/>
<text x="33.3" y="474.32" font-size="7" text-anchor="end">80</text>
<line x1="37" y1="487.9" x2="40.2" y2="487.9" stroke="#1a1a1a" stroke-width="1.2"/>
<text x="33.3" y="490.42" font-size="7" text-anchor="end">60</text>
<line x1="37" y1="503.9" x2="40.2" y2="503.9" stroke="#1a1a1a" stroke-width="1.2"/>
<text x="33.3" y="506.42" font-size="7" text-anchor="end">40</text>
<line x1="37" y1="520" x2="40.2" y2="520" stroke="#1a1a1a" stroke-width="1.2"/>
<text x="33.3" y="522.52" font-size="7" text-anchor="end">20</text>
<line x1="37" y1="536.1" x2="40.2" y2="536.1" stroke="#1a1a1a" stroke-width="1.2"/>
<text x="33.3" y="538.62" font-size="7" text-anchor="end">0</text>
<text transform="translate(15 494.5) rotate(-90)" font-size="9.2" style="stroke-width:0.38px" text-anchor="middle" textLength="33" lengthAdjust="spacingAndGlyphs">% CD45.2+</text>
<line x1="46.05" y1="491.5" x2="46.05" y2="533.9" stroke="#8a8a8a" stroke-width="0.9"/>
<rect x="43.3" y="495.3" width="5.5" height="33.4" fill="#4f6879"/>
<line x1="43.3" y1="513.02" x2="48.8" y2="513.02" stroke="#1a1a1a" stroke-width="0.7"/>
<circle cx="46.05" cy="491.5" r="1" fill="#111"/>
<circle cx="46.05" cy="533.9" r="1" fill="#111"/>
<circle cx="46.66" cy="497.12" r="0.9" fill="#111"/>
<circle cx="45.25" cy="505.6" r="0.9" fill="#111"/>
<circle cx="47.4" cy="518.04" r="0.9" fill="#111"/>
<circle cx="46.15" cy="527.43" r="0.9" fill="#111"/>
<line x1="52.55" y1="490.7" x2="52.55" y2="534.8" stroke="#8a8a8a" stroke-width="0.9"/>
<rect x="49.7" y="494.1" width="5.7" height="27.7" fill="#22b6e3"/>
<line x1="49.7" y1="510.63" x2="55.4" y2="510.63" stroke="#1a1a1a" stroke-width="0.7"/>
<circle cx="52.55" cy="490.7" r="1" fill="#111"/>
<circle cx="52.55" cy="534.8" r="1" fill="#111"/>
<circle cx="52.59" cy="495.65" r="0.9" fill="#111"/>
<circle cx="52.06" cy="503.94" r="0.9" fill="#111"/>
<circle cx="51.52" cy="513.42" r="0.9" fill="#111"/>
<circle cx="50.62" cy="523.36" r="0.9" fill="#111"/>
<line x1="58.95" y1="519.2" x2="58.95" y2="533.9" stroke="#8a8a8a" stroke-width="0.9"/>
<rect x="56.1" y="523.5" width="5.7" height="7.8" fill="#d6d4da"/>
<line x1="56.1" y1="527.71" x2="61.8" y2="527.71" stroke="#1a1a1a" stroke-width="0.7"/>
<circle cx="58.95" cy="519.2" r="1" fill="#111"/>
<circle cx="58.95" cy="533.9" r="1" fill="#111"/>
<circle cx="57.2" cy="527.33" r="0.9" fill="#111"/>
<line x1="65.55" y1="503.3" x2="65.55" y2="527.9" stroke="#8a8a8a" stroke-width="0.9"/>
<rect x="62.7" y="507.1" width="5.7" height="17.3" fill="#1b6a98"/>
<line x1="62.7" y1="515.26" x2="68.4" y2="515.26" stroke="#1a1a1a" stroke-width="0.7"/>
<circle cx="65.55" cy="503.3" r="1" fill="#111"/>
<circle cx="65.55" cy="527.9" r="1" fill="#111"/>
<circle cx="64.78" cy="506.25" r="0.9" fill="#111"/>
<circle cx="63.93" cy="511.54" r="0.9" fill="#111"/>
<circle cx="66.35" cy="517.41" r="0.9" fill="#111"/>
<circle cx="64.7" cy="524.18" r="0.9" fill="#111"/>
<line x1="77.95" y1="486.9" x2="77.95" y2="533.9" stroke="#8a8a8a" stroke-width="0.9"/>
<rect x="75.1" y="493.6" width="5.7" height="35.1" fill="#4f6879"/>
<line x1="75.1" y1="514.97" x2="80.8" y2="514.97" stroke="#1a1a1a" stroke-width="0.7"/>
<circle cx="77.95" cy="486.9" r="1" fill="#111"/>
<circle cx="77.95" cy="533.9" r="1" fill="#111"/>
<circle cx="75.98" cy="493.02" r="0.9" fill="#111"/>
<circle cx="77.23" cy="504.72" r="0.9" fill="#111"/>
<circle cx="76.7" cy="517.3" r="0.9" fill="#111"/>
<circle cx="78.14" cy="528.81" r="0.9" fill="#111"/>
<line x1="84.3" y1="479.8" x2="84.3" y2="535.6" stroke="#8a8a8a" stroke-width="0.9"/>
<rect x="81.4" y="487.7" width="5.8" height="42.2" fill="#22b6e3"/>
<line x1="81.4" y1="511.52" x2="87.2" y2="511.52" stroke="#1a1a1a" stroke-width="0.7"/>
<circle cx="84.3" cy="479.8" r="1" fill="#111"/>
<circle cx="84.3" cy="535.6" r="1" fill="#111"/>
<circle cx="82.28" cy="486.65" r="0.9" fill="#111"/>
<circle cx="84.36" cy="500.35" r="0.9" fill="#111"/>
<circle cx="85.62" cy="513.9" r="0.9" fill="#111"/>
<circle cx="86.1" cy="528.23" r="0.9" fill="#111"/>
<line x1="90.8" y1="520.9" x2="90.8" y2="534.4" stroke="#8a8a8a" stroke-width="0.9"/>
<rect x="88.1" y="522" width="5.4" height="9" fill="#d6d4da"/>
<line x1="88.1" y1="526.55" x2="93.5" y2="526.55" stroke="#1a1a1a" stroke-width="0.7"/>
<circle cx="90.8" cy="520.9" r="1" fill="#111"/>
<circle cx="90.8" cy="534.4" r="1" fill="#111"/>
<circle cx="91.79" cy="521.76" r="0.9" fill="#111"/>
<circle cx="91.18" cy="524.87" r="0.9" fill="#111"/>
<circle cx="90.18" cy="527.44" r="0.9" fill="#111"/>
<circle cx="92.32" cy="531.3" r="0.9" fill="#111"/>
<line x1="97.3" y1="495.3" x2="97.3" y2="525.3" stroke="#8a8a8a" stroke-width="0.9"/>
<rect x="94.7" y="501" width="5.2" height="23.4" fill="#1b6a98"/>
<line x1="94.7" y1="513.78" x2="99.9" y2="513.78" stroke="#1a1a1a" stroke-width="0.7"/>
<circle cx="97.3" cy="495.3" r="1" fill="#111"/>
<circle cx="97.3" cy="525.3" r="1" fill="#111"/>
<circle cx="98.33" cy="500.8" r="0.9" fill="#111"/>
<circle cx="95.74" cy="508.87" r="0.9" fill="#111"/>
<circle cx="96.06" cy="516.89" r="0.9" fill="#111"/>
<circle cx="95.54" cy="523.74" r="0.9" fill="#111"/>
<line x1="109.8" y1="487" x2="109.8" y2="533.5" stroke="#8a8a8a" stroke-width="0.9"/>
<rect x="107.2" y="495.2" width="5.2" height="32.9" fill="#4f6879"/>
<line x1="107.2" y1="512.44" x2="112.4" y2="512.44" stroke="#1a1a1a" stroke-width="0.7"/>
<circle cx="109.8" cy="487" r="1" fill="#111"/>
<circle cx="109.8" cy="533.5" r="1" fill="#111"/>
<circle cx="110.99" cy="493.36" r="0.9" fill="#111"/>
<circle cx="110.84" cy="506.76" r="0.9" fill="#111"/>
<circle cx="110.08" cy="516.19" r="0.9" fill="#111"/>
<circle cx="111.03" cy="529.28" r="0.9" fill="#111"/>
<line x1="115.95" y1="484.3" x2="115.95" y2="534.8" stroke="#8a8a8a" stroke-width="0.9"/>
<rect x="113.1" y="493.7" width="5.7" height="36.8" fill="#22b6e3"/>
<line x1="113.1" y1="517.6" x2="118.8" y2="517.6" stroke="#1a1a1a" stroke-width="0.7"/>
<circle cx="115.95" cy="484.3" r="1" fill="#111"/>
<circle cx="115.95" cy="534.8" r="1" fill="#111"/>
<circle cx="115.16" cy="493.08" r="0.9" fill="#111"/>
<circle cx="114.83" cy="502.91" r="0.9" fill="#111"/>
<circle cx="116.38" cy="518.07" r="0.9" fill="#111"/>
<circle cx="116.28" cy="532.09" r="0.9" fill="#111"/>
<line x1="122.7" y1="524.9" x2="122.7" y2="533.5" stroke="#8a8a8a" stroke-width="0.9"/>
<rect x="120" y="527.2" width="5.4" height="4.3" fill="#d6d4da"/>
<line x1="120" y1="529.53" x2="125.4" y2="529.53" stroke="#1a1a1a" stroke-width="0.7"/>
<circle cx="122.7" cy="524.9" r="1" fill="#111"/>
<circle cx="122.7" cy="533.5" r="1" fill="#111"/>
<circle cx="121.62" cy="529.22" r="0.9" fill="#111"/>
<line x1="128.95" y1="515" x2="128.95" y2="526" stroke="#8a8a8a" stroke-width="0.9"/>
<rect x="126.1" y="516.3" width="5.7" height="8.6" fill="#1b6a98"/>
<line x1="126.1" y1="521.09" x2="131.8" y2="521.09" stroke="#1a1a1a" stroke-width="0.7"/>
<circle cx="128.95" cy="515" r="1" fill="#111"/>
<circle cx="128.95" cy="526" r="1" fill="#111"/>
<circle cx="128.16" cy="516.03" r="0.9" fill="#111"/>
<circle cx="129.68" cy="518.62" r="0.9" fill="#111"/>
<circle cx="128.36" cy="521.6" r="0.9" fill="#111"/>
<circle cx="129.25" cy="524.82" r="0.9" fill="#111"/>
<line x1="141.05" y1="492.1" x2="141.05" y2="534.1" stroke="#8a8a8a" stroke-width="0.9"/>
<rect x="138.2" y="497.2" width="5.7" height="34.3" fill="#4f6879"/>
<line x1="138.2" y1="514.34" x2="143.9" y2="514.34" stroke="#1a1a1a" stroke-width="0.7"/>
<circle cx="141.05" cy="492.1" r="1" fill="#111"/>
<circle cx="141.05" cy="534.1" r="1" fill="#111"/>
<circle cx="139.89" cy="497.58" r="0.9" fill="#111"/>
<circle cx="139.18" cy="508.89" r="0.9" fill="#111"/>
<circle cx="142.39" cy="518.64" r="0.9" fill="#111"/>
<circle cx="139.1" cy="532.66" r="0.9" fill="#111"/>
<line x1="147.8" y1="490" x2="147.8" y2="534.5" stroke="#8a8a8a" stroke-width="0.9"/>
<rect x="144.8" y="498.6" width="6" height="32" fill="#22b6e3"/>
<line x1="144.8" y1="513.93" x2="150.8" y2="513.93" stroke="#1a1a1a" stroke-width="0.7"/>
<circle cx="147.8" cy="490" r="1" fill="#111"/>
<circle cx="147.8" cy="534.5" r="1" fill="#111"/>
<circle cx="148.93" cy="496.79" r="0.9" fill="#111"/>
<circle cx="145.73" cy="508.11" r="0.9" fill="#111"/>
<circle cx="148.79" cy="520.28" r="0.9" fill="#111"/>
<circle cx="148.54" cy="528.95" r="0.9" fill="#111"/>
<line x1="154.3" y1="521.1" x2="154.3" y2="535" stroke="#8a8a8a" stroke-width="0.9"/>
<rect x="151.7" y="525.4" width="5.2" height="8.7" fill="#d6d4da"/>
<line x1="151.7" y1="530.14" x2="156.9" y2="530.14" stroke="#1a1a1a" stroke-width="0.7"/>
<circle cx="154.3" cy="521.1" r="1" fill="#111"/>
<circle cx="154.3" cy="535" r="1" fill="#111"/>
<circle cx="155.73" cy="525.59" r="0.9" fill="#111"/>
<circle cx="154.76" cy="527.97" r="0.9" fill="#111"/>
<circle cx="154.09" cy="530.91" r="0.9" fill="#111"/>
<circle cx="154.41" cy="534.59" r="0.9" fill="#111"/>
<line x1="160.65" y1="513.9" x2="160.65" y2="535" stroke="#8a8a8a" stroke-width="0.9"/>
<rect x="157.8" y="516.8" width="5.7" height="14.7" fill="#1b6a98"/>
<line x1="157.8" y1="525.8" x2="163.5" y2="525.8" stroke="#1a1a1a" stroke-width="0.7"/>
<circle cx="160.65" cy="513.9" r="1" fill="#111"/>
<circle cx="160.65" cy="535" r="1" fill="#111"/>
<circle cx="160.13" cy="517.6" r="0.9" fill="#111"/>
<circle cx="161.18" cy="521.4" r="0.9" fill="#111"/>
<circle cx="160.78" cy="526.51" r="0.9" fill="#111"/>
<circle cx="159" cy="530.77" r="0.9" fill="#111"/>
<line x1="173.3" y1="483.6" x2="173.3" y2="532.4" stroke="#8a8a8a" stroke-width="0.9"/>
<rect x="170.5" y="494.1" width="5.6" height="35.5" fill="#4f6879"/>
<line x1="170.5" y1="513.8" x2="176.1" y2="513.8" stroke="#1a1a1a" stroke-width="0.7"/>
<circle cx="173.3" cy="483.6" r="1" fill="#111"/>
<circle cx="173.3" cy="532.4" r="1" fill="#111"/>
<circle cx="172.13" cy="495.35" r="0.9" fill="#111"/>
<circle cx="172.57" cy="503.25" r="0.9" fill="#111"/>
<circle cx="174.1" cy="515.77" r="0.9" fill="#111"/>
<circle cx="173.75" cy="528.47" r="0.9" fill="#111"/>
<line x1="179.6" y1="472.2" x2="179.6" y2="535.5" stroke="#8a8a8a" stroke-width="0.9"/>
<rect x="176.9" y="480.6" width="5.4" height="54.1" fill="#22b6e3"/>
<line x1="176.9" y1="505.27" x2="182.3" y2="505.27" stroke="#1a1a1a" stroke-width="0.7"/>
<circle cx="179.6" cy="472.2" r="1" fill="#111"/>
<circle cx="179.6" cy="535.5" r="1" fill="#111"/>
<circle cx="177.71" cy="478.4" r="0.9" fill="#111"/>
<circle cx="180.57" cy="496.59" r="0.9" fill="#111"/>
<circle cx="179.29" cy="513.95" r="0.9" fill="#111"/>
<circle cx="178.71" cy="535.88" r="0.9" fill="#111"/>
<line x1="186.2" y1="524" x2="186.2" y2="534" stroke="#8a8a8a" stroke-width="0.9"/>
<rect x="183.7" y="526.2" width="5" height="6" fill="#d6d4da"/>
<line x1="183.7" y1="529.29" x2="188.7" y2="529.29" stroke="#1a1a1a" stroke-width="0.7"/>
<circle cx="186.2" cy="524" r="1" fill="#111"/>
<circle cx="186.2" cy="534" r="1" fill="#111"/>
<circle cx="184.64" cy="529.02" r="0.9" fill="#111"/>
<line x1="192.8" y1="506.8" x2="192.8" y2="529.6" stroke="#8a8a8a" stroke-width="0.9"/>
<rect x="190.1" y="510.2" width="5.4" height="15.2" fill="#1b6a98"/>
<line x1="190.1" y1="517.7" x2="195.5" y2="517.7" stroke="#1a1a1a" stroke-width="0.7"/>
<circle cx="192.8" cy="506.8" r="1" fill="#111"/>
<circle cx="192.8" cy="529.6" r="1" fill="#111"/>
<circle cx="193.07" cy="510.87" r="0.9" fill="#111"/>
<circle cx="192.67" cy="514.85" r="0.9" fill="#111"/>
<circle cx="193.77" cy="520.72" r="0.9" fill="#111"/>
<circle cx="194.46" cy="525.51" r="0.9" fill="#111"/>
<path d="M45.4 486.3V482.9H59.6V518.3" fill="none" stroke="#6e6e6e" stroke-width="0.9"/>
<path d="M52.3 478.8l0 2.2M51.35 479.35l1.9 1.1M51.35 480.45l1.9 -1.1" stroke="#222" stroke-width="0.75" fill="none"/>
<path d="M77.4 480.3V475.6H90.7V520" fill="none" stroke="#6e6e6e" stroke-width="0.9"/>
<path d="M84.3 471.5l0 2.2M83.35 472.05l1.9 1.1M83.35 473.15l1.9 -1.1" stroke="#222" stroke-width="0.75" fill="none"/>
<path d="M90.7 520V488.4H97.3V491.5" fill="none" stroke="#6e6e6e" stroke-width="0.9"/>
<path d="M93.8 484.3l0 2.2M92.85 484.85l1.9 1.1M92.85 485.95l1.9 -1.1" stroke="#222" stroke-width="0.75" fill="none"/>
<path d="M109.5 481.7V477.9H122.6V524.6" fill="none" stroke="#6e6e6e" stroke-width="0.9"/>
<path d="M116.1 473.8l0 2.2M115.15 474.35l1.9 1.1M115.15 475.45l1.9 -1.1" stroke="#222" stroke-width="0.75" fill="none"/>
<path d="M122.6 524.6V511.6H128.9V515" fill="none" stroke="#6e6e6e" stroke-width="0.9"/>
<path d="M125.8 507.5l0 2.2M124.85 508.05l1.9 1.1M124.85 509.15l1.9 -1.1" stroke="#222" stroke-width="0.75" fill="none"/>
<path d="M141.3 486.5V480.5H161.2V513.3" fill="none" stroke="#6e6e6e" stroke-width="0.9"/>
<text x="149.7" y="478.4" font-size="7.4" text-anchor="middle"><tspan font-style="italic">P</tspan> = .06</text>
<path d="M141.3 490V486.5H154.8V521.1" fill="none" stroke="#6e6e6e" stroke-width="0.9"/>
<path d="M147.9 482.4l0 2.2M146.95 482.95l1.9 1.1M146.95 484.05l1.9 -1.1" stroke="#222" stroke-width="0.75" fill="none"/>
<path d="M185.7 521.2V500.5H192.1V506.8" fill="none" stroke="#6e6e6e" stroke-width="0.9"/>
<path d="M189.1 496.4l0 2.2M188.15 496.95l1.9 1.1M188.15 498.05l1.9 -1.1" stroke="#222" stroke-width="0.75" fill="none"/>
<line x1="39.5" y1="536.1" x2="198.6" y2="536.1" stroke="#0a0a0a" stroke-width="1.5"/>
<line x1="55.7" y1="536.1" x2="55.7" y2="538.7" stroke="#1a1a1a" stroke-width="1"/>
<line x1="87.2" y1="536.1" x2="87.2" y2="538.7" stroke="#1a1a1a" stroke-width="1"/>
<line x1="119.2" y1="536.1" x2="119.2" y2="538.7" stroke="#1a1a1a" stroke-width="1"/>
<line x1="150.9" y1="536.1" x2="150.9" y2="538.7" stroke="#1a1a1a" stroke-width="1"/>
<line x1="182.5" y1="536.1" x2="182.5" y2="538.7" stroke="#1a1a1a" stroke-width="1"/>
<text transform="translate(58.9 548) rotate(-45)" font-size="6.8" text-anchor="end">Lin&#8722;</text>
<text transform="translate(90.4 548) rotate(-45)" font-size="6.8" text-anchor="end">LK</text>
<text transform="translate(122.4 548) rotate(-45)" font-size="6.8" text-anchor="end">LSK</text>
<text transform="translate(154.5 548.4) rotate(-45)" font-size="6.9" text-anchor="end" textLength="49" lengthAdjust="spacingAndGlyphs">CD150+CD48&#8722;</text>
<text transform="translate(186.1 548.4) rotate(-45)" font-size="6.9" text-anchor="end" textLength="49" lengthAdjust="spacingAndGlyphs">CD150&#8722;CD48+</text>
<rect x="19.8" y="595.3" width="4.9" height="4.9" fill="#4f6879"/>
<rect x="19.8" y="606.5" width="4.9" height="4.9" fill="#22b6e3"/>
<rect x="106.8" y="595.3" width="4.9" height="4.9" fill="#d6d4da"/>
<rect x="106.8" y="606.5" width="4.9" height="4.9" fill="#1b6a98"/>
<text x="29.1" y="600.4" font-size="6.7"><tspan font-style="italic" letter-spacing="0.42">Sf3b1</tspan><tspan font-size="4.5" dx="0.6" dy="-3.69">+/+</tspan><tspan dx="0.5" dy="3.69">Normal diet</tspan></text>
<text x="29.1" y="611.6" font-size="6.7"><tspan font-style="italic" letter-spacing="0.42">Sf3b1</tspan><tspan font-size="4.5" dx="0.6" dy="-3.69">+/+</tspan><tspan dx="0.5" dy="3.69">High B12&amp;Met</tspan></text>
<text x="115.4" y="600.4" font-size="6.7"><tspan font-style="italic" letter-spacing="0.42">Sf3b1</tspan><tspan font-size="4.4" dx="0.6" dy="-3.69">+/K700E</tspan><tspan dx="0.5" dy="3.69">-Normal</tspan></text>
<text x="115.4" y="611.6" font-size="6.7"><tspan font-style="italic" letter-spacing="0.42">Sf3b1</tspan><tspan font-size="4.4" dx="0.6" dy="-3.69">+/K700E</tspan><tspan dx="0.5" dy="3.69">-High B12&amp;Met</tspan></text>
<text x="229.2" y="220.6" font-size="12.5" font-weight="bold" fill="#000" style="stroke:#000;stroke-width:0.55px">G</text>
<line x1="260.6" y1="232.3" x2="324.6" y2="232.3" stroke="#333" stroke-width="0.9"/>
<line x1="368.3" y1="232.3" x2="424.6" y2="232.3" stroke="#333" stroke-width="0.9"/>
<text x="345.9" y="235.3" font-size="8.7" text-anchor="middle" textLength="37.5" lengthAdjust="spacingAndGlyphs">CD11b+</text>
<text x="281.6" y="246.6" font-size="6.8" text-anchor="middle">Peripheral Blood</text>
<text x="348.8" y="246.6" font-size="6.8" text-anchor="middle">Spleen</text>
<text x="407.6" y="246.6" font-size="6.8" text-anchor="middle">Bone Marrow</text>
<text transform="translate(236.2 290.8) rotate(-90)" font-size="7.8" style="stroke-width:0.35px" text-anchor="middle" textLength="42.3" lengthAdjust="spacingAndGlyphs">Fold change in</text>
<text transform="translate(246.8 291.6) rotate(-90)" font-size="7.8" style="stroke-width:0.35px" text-anchor="middle" textLength="74.4" lengthAdjust="spacingAndGlyphs">CD45.2+ competitiveness</text>
<line x1="264.5" y1="252.2" x2="264.5" y2="331.8" stroke="#0a0a0a" stroke-width="1.5"/>
<line x1="261.3" y1="255" x2="264.5" y2="255" stroke="#1a1a1a" stroke-width="1.2"/>
<text x="257.4" y="257.34" font-size="6.5" text-anchor="end">8</text>
<line x1="261.3" y1="274" x2="264.5" y2="274" stroke="#1a1a1a" stroke-width="1.2"/>
<text x="257.4" y="276.34" font-size="6.5" text-anchor="end">6</text>
<line x1="261.3" y1="293" x2="264.5" y2="293" stroke="#1a1a1a" stroke-width="1.2"/>
<text x="257.4" y="295.34" font-size="6.5" text-anchor="end">4</text>
<line x1="261.3" y1="312.3" x2="264.5" y2="312.3" stroke="#1a1a1a" stroke-width="1.2"/>
<text x="257.4" y="314.64" font-size="6.5" text-anchor="end">2</text>
<line x1="261.3" y1="331.2" x2="264.5" y2="331.2" stroke="#1a1a1a" stroke-width="1.2"/>
<text x="257.4" y="333.54" font-size="6.5" text-anchor="end">0</text>
<line x1="269" y1="310.2" x2="269" y2="331" stroke="#8a8a8a" stroke-width="0.9"/>
<rect x="266.6" y="315.9" width="4.8" height="11.2" fill="#d6d4da"/>
<line x1="266.6" y1="323.15" x2="271.4" y2="323.15" stroke="#1a1a1a" stroke-width="0.7"/>
<circle cx="269" cy="310.2" r="1" fill="#111"/>
<circle cx="269" cy="331" r="1" fill="#111"/>
<circle cx="269.83" cy="316" r="0.9" fill="#111"/>
<circle cx="269.3" cy="319.19" r="0.9" fill="#111"/>
<circle cx="270.32" cy="322.63" r="0.9" fill="#111"/>
<circle cx="269.75" cy="326.56" r="0.9" fill="#111"/>
<line x1="275" y1="310.7" x2="275" y2="330" stroke="#8a8a8a" stroke-width="0.9"/>
<rect x="272.2" y="312.3" width="5.6" height="15.6" fill="#1b6a98"/>
<line x1="272.2" y1="320.13" x2="277.8" y2="320.13" stroke="#1a1a1a" stroke-width="0.7"/>
<circle cx="275" cy="310.7" r="1" fill="#111"/>
<circle cx="275" cy="330" r="1" fill="#111"/>
<circle cx="274.48" cy="312.61" r="0.9" fill="#111"/>
<circle cx="274.48" cy="316.8" r="0.9" fill="#111"/>
<circle cx="275.85" cy="323" r="0.9" fill="#111"/>
<circle cx="273.86" cy="328.53" r="0.9" fill="#111"/>
<line x1="287.65" y1="314.6" x2="287.65" y2="330.5" stroke="#8a8a8a" stroke-width="0.9"/>
<rect x="285.1" y="317.1" width="5.1" height="10.8" fill="#d6d4da"/>
<line x1="285.1" y1="322.47" x2="290.2" y2="322.47" stroke="#1a1a1a" stroke-width="0.7"/>
<circle cx="287.65" cy="314.6" r="1" fill="#111"/>
<circle cx="287.65" cy="330.5" r="1" fill="#111"/>
<circle cx="288.37" cy="316.83" r="0.9" fill="#111"/>
<circle cx="288.57" cy="320.79" r="0.9" fill="#111"/>
<circle cx="288.96" cy="324.43" r="0.9" fill="#111"/>
<circle cx="288.19" cy="327.34" r="0.9" fill="#111"/>
<line x1="294.1" y1="275.3" x2="294.1" y2="307" stroke="#8a8a8a" stroke-width="0.9"/>
<rect x="291.5" y="279.6" width="5.2" height="25" fill="#1b6a98"/>
<line x1="291.5" y1="294.62" x2="296.7" y2="294.62" stroke="#1a1a1a" stroke-width="0.7"/>
<circle cx="294.1" cy="275.3" r="1" fill="#111"/>
<circle cx="294.1" cy="307" r="1" fill="#111"/>
<circle cx="293.1" cy="280.07" r="0.9" fill="#111"/>
<circle cx="292.75" cy="285.61" r="0.9" fill="#111"/>
<circle cx="295.08" cy="295.07" r="0.9" fill="#111"/>
<circle cx="294.32" cy="305.92" r="0.9" fill="#111"/>
<path d="M286.4 303.8V265.9H294.8V270.8" fill="none" stroke="#6e6e6e" stroke-width="0.9"/>
<path d="M289.1 261.8l0 2.2M288.15 262.35l1.9 1.1M288.15 263.45l1.9 -1.1" stroke="#222" stroke-width="0.75" fill="none"/>
<path d="M292.1 261.8l0 2.2M291.15 262.35l1.9 1.1M291.15 263.45l1.9 -1.1" stroke="#222" stroke-width="0.75" fill="none"/>
<line x1="263.8" y1="331.2" x2="298" y2="331.2" stroke="#0a0a0a" stroke-width="1.5"/>
<line x1="272.2" y1="331.2" x2="272.2" y2="333.8" stroke="#1a1a1a" stroke-width="1"/>
<line x1="290.7" y1="331.2" x2="290.7" y2="333.8" stroke="#1a1a1a" stroke-width="1"/>
<line x1="331.1" y1="252.2" x2="331.1" y2="331.8" stroke="#0a0a0a" stroke-width="1.5"/>
<line x1="327.9" y1="255" x2="331.1" y2="255" stroke="#1a1a1a" stroke-width="1.2"/>
<text x="324.9" y="257.34" font-size="6.5" text-anchor="end">5</text>
<line x1="327.9" y1="270.2" x2="331.1" y2="270.2" stroke="#1a1a1a" stroke-width="1.2"/>
<text x="324.9" y="272.54" font-size="6.5" text-anchor="end">4</text>
<line x1="327.9" y1="285.5" x2="331.1" y2="285.5" stroke="#1a1a1a" stroke-width="1.2"/>
<text x="324.9" y="287.84" font-size="6.5" text-anchor="end">3</text>
<line x1="327.9" y1="300.7" x2="331.1" y2="300.7" stroke="#1a1a1a" stroke-width="1.2"/>
<text x="324.9" y="303.04" font-size="6.5" text-anchor="end">2</text>
<line x1="327.9" y1="316" x2="331.1" y2="316" stroke="#1a1a1a" stroke-width="1.2"/>
<text x="324.9" y="318.34" font-size="6.5" text-anchor="end">1</text>
<line x1="327.9" y1="331.2" x2="331.1" y2="331.2" stroke="#1a1a1a" stroke-width="1.2"/>
<text x="324.9" y="333.54" font-size="6.5" text-anchor="end">0</text>
<line x1="335.9" y1="300.1" x2="335.9" y2="329.5" stroke="#8a8a8a" stroke-width="0.9"/>
<rect x="333.5" y="309.4" width="4.8" height="16.1" fill="#d6d4da"/>
<line x1="333.5" y1="317.01" x2="338.3" y2="317.01" stroke="#1a1a1a" stroke-width="0.7"/>
<circle cx="335.9" cy="300.1" r="1" fill="#111"/>
<circle cx="335.9" cy="329.5" r="1" fill="#111"/>
<circle cx="334.65" cy="309.96" r="0.9" fill="#111"/>
<circle cx="334.68" cy="315.15" r="0.9" fill="#111"/>
<circle cx="337.33" cy="320.61" r="0.9" fill="#111"/>
<circle cx="335.06" cy="324.59" r="0.9" fill="#111"/>
<line x1="342.65" y1="297.3" x2="342.65" y2="330.3" stroke="#8a8a8a" stroke-width="0.9"/>
<rect x="340" y="303" width="5.3" height="24.1" fill="#1b6a98"/>
<line x1="340" y1="316.01" x2="345.3" y2="316.01" stroke="#1a1a1a" stroke-width="0.7"/>
<circle cx="342.65" cy="297.3" r="1" fill="#111"/>
<circle cx="342.65" cy="330.3" r="1" fill="#111"/>
<circle cx="340.85" cy="303.88" r="0.9" fill="#111"/>
<circle cx="344.48" cy="309.34" r="0.9" fill="#111"/>
<circle cx="343.5" cy="317.89" r="0.9" fill="#111"/>
<circle cx="343.2" cy="328.31" r="0.9" fill="#111"/>
<line x1="355.05" y1="300.1" x2="355.05" y2="326.3" stroke="#8a8a8a" stroke-width="0.9"/>
<rect x="352.4" y="305.4" width="5.3" height="18.5" fill="#d6d4da"/>
<line x1="352.4" y1="316.16" x2="357.7" y2="316.16" stroke="#1a1a1a" stroke-width="0.7"/>
<circle cx="355.05" cy="300.1" r="1" fill="#111"/>
<circle cx="355.05" cy="326.3" r="1" fill="#111"/>
<circle cx="356.04" cy="304.49" r="0.9" fill="#111"/>
<circle cx="356.42" cy="311.41" r="0.9" fill="#111"/>
<circle cx="355.22" cy="316.66" r="0.9" fill="#111"/>
<circle cx="355.05" cy="323.59" r="0.9" fill="#111"/>
<line x1="361.45" y1="260.6" x2="361.45" y2="315.9" stroke="#8a8a8a" stroke-width="0.9"/>
<rect x="358.8" y="268.3" width="5.3" height="40.3" fill="#1b6a98"/>
<line x1="358.8" y1="290.5" x2="364.1" y2="290.5" stroke="#1a1a1a" stroke-width="0.7"/>
<circle cx="361.45" cy="260.6" r="1" fill="#111"/>
<circle cx="361.45" cy="315.9" r="1" fill="#111"/>
<circle cx="360.5" cy="267.12" r="0.9" fill="#111"/>
<circle cx="360.23" cy="279.9" r="0.9" fill="#111"/>
<circle cx="361.44" cy="293.82" r="0.9" fill="#111"/>
<circle cx="359.73" cy="309.04" r="0.9" fill="#111"/>
<path d="M354.5 299.8V257.1H361.7V259.5" fill="none" stroke="#6e6e6e" stroke-width="0.9"/>
<path d="M357.7 253l0 2.2M356.75 253.55l1.9 1.1M356.75 254.65l1.9 -1.1" stroke="#222" stroke-width="0.75" fill="none"/>
<line x1="330.4" y1="331.2" x2="365.7" y2="331.2" stroke="#0a0a0a" stroke-width="1.5"/>
<line x1="338.8" y1="331.2" x2="338.8" y2="333.8" stroke="#1a1a1a" stroke-width="1"/>
<line x1="357.7" y1="331.2" x2="357.7" y2="333.8" stroke="#1a1a1a" stroke-width="1"/>
<line x1="390.6" y1="252.2" x2="390.6" y2="331.8" stroke="#0a0a0a" stroke-width="1.5"/>
<line x1="387.4" y1="255" x2="390.6" y2="255" stroke="#1a1a1a" stroke-width="1.2"/>
<text x="384.4" y="257.34" font-size="6.5" text-anchor="end">5</text>
<line x1="387.4" y1="270.2" x2="390.6" y2="270.2" stroke="#1a1a1a" stroke-width="1.2"/>
<text x="384.4" y="272.54" font-size="6.5" text-anchor="end">4</text>
<line x1="387.4" y1="285.5" x2="390.6" y2="285.5" stroke="#1a1a1a" stroke-width="1.2"/>
<text x="384.4" y="287.84" font-size="6.5" text-anchor="end">3</text>
<line x1="387.4" y1="300.7" x2="390.6" y2="300.7" stroke="#1a1a1a" stroke-width="1.2"/>
<text x="384.4" y="303.04" font-size="6.5" text-anchor="end">2</text>
<line x1="387.4" y1="316" x2="390.6" y2="316" stroke="#1a1a1a" stroke-width="1.2"/>
<text x="384.4" y="318.34" font-size="6.5" text-anchor="end">1</text>
<line x1="387.4" y1="331.2" x2="390.6" y2="331.2" stroke="#1a1a1a" stroke-width="1.2"/>
<text x="384.4" y="333.54" font-size="6.5" text-anchor="end">0</text>
<line x1="394.9" y1="305" x2="394.9" y2="329.8" stroke="#8a8a8a" stroke-width="0.9"/>
<rect x="392.7" y="306.7" width="4.4" height="19.5" fill="#d6d4da"/>
<line x1="392.7" y1="317.78" x2="397.1" y2="317.78" stroke="#1a1a1a" stroke-width="0.7"/>
<circle cx="394.9" cy="305" r="1" fill="#111"/>
<circle cx="394.9" cy="329.8" r="1" fill="#111"/>
<circle cx="393.52" cy="306.38" r="0.9" fill="#111"/>
<circle cx="396.01" cy="311.44" r="0.9" fill="#111"/>
<circle cx="394.18" cy="319.85" r="0.9" fill="#111"/>
<circle cx="396.26" cy="325.64" r="0.9" fill="#111"/>
<line x1="401.3" y1="302" x2="401.3" y2="330.7" stroke="#8a8a8a" stroke-width="0.9"/>
<rect x="398.9" y="303.7" width="4.8" height="24.3" fill="#1b6a98"/>
<line x1="398.9" y1="315.7" x2="403.7" y2="315.7" stroke="#1a1a1a" stroke-width="0.7"/>
<circle cx="401.3" cy="302" r="1" fill="#111"/>
<circle cx="401.3" cy="330.7" r="1" fill="#111"/>
<circle cx="402.85" cy="302.33" r="0.9" fill="#111"/>
<circle cx="401.33" cy="312.05" r="0.9" fill="#111"/>
<circle cx="402.12" cy="320.74" r="0.9" fill="#111"/>
<circle cx="401.52" cy="328.55" r="0.9" fill="#111"/>
<line x1="413.7" y1="300.9" x2="413.7" y2="328" stroke="#8a8a8a" stroke-width="0.9"/>
<rect x="411.3" y="305" width="4.8" height="20.3" fill="#d6d4da"/>
<line x1="411.3" y1="314.14" x2="416.1" y2="314.14" stroke="#1a1a1a" stroke-width="0.7"/>
<circle cx="413.7" cy="300.9" r="1" fill="#111"/>
<circle cx="413.7" cy="328" r="1" fill="#111"/>
<circle cx="412.39" cy="305.01" r="0.9" fill="#111"/>
<circle cx="414.81" cy="311.05" r="0.9" fill="#111"/>
<circle cx="413.29" cy="318.38" r="0.9" fill="#111"/>
<circle cx="415.23" cy="324.49" r="0.9" fill="#111"/>
<line x1="420.15" y1="269.5" x2="420.15" y2="320.9" stroke="#8a8a8a" stroke-width="0.9"/>
<rect x="417.5" y="285" width="5.3" height="33.3" fill="#1b6a98"/>
<line x1="417.5" y1="302.26" x2="422.8" y2="302.26" stroke="#1a1a1a" stroke-width="0.7"/>
<circle cx="420.15" cy="269.5" r="1" fill="#111"/>
<circle cx="420.15" cy="320.9" r="1" fill="#111"/>
<circle cx="418.83" cy="286.62" r="0.9" fill="#111"/>
<circle cx="419.02" cy="294.8" r="0.9" fill="#111"/>
<circle cx="418.53" cy="306.79" r="0.9" fill="#111"/>
<circle cx="420.02" cy="319.49" r="0.9" fill="#111"/>
<line x1="389.9" y1="331.2" x2="424.6" y2="331.2" stroke="#0a0a0a" stroke-width="1.5"/>
<line x1="398" y1="331.2" x2="398" y2="333.8" stroke="#1a1a1a" stroke-width="1"/>
<line x1="416.6" y1="331.2" x2="416.6" y2="333.8" stroke="#1a1a1a" stroke-width="1"/>
<text transform="translate(274.9 344.4) rotate(-45)" font-size="7.6" text-anchor="end"><tspan font-style="italic">Sf3b1</tspan><tspan font-size="4.6" dy="-2.89">+/+</tspan></text>
<text transform="translate(341.5 344.4) rotate(-45)" font-size="7.6" text-anchor="end"><tspan font-style="italic">Sf3b1</tspan><tspan font-size="4.6" dy="-2.89">+/+</tspan></text>
<text transform="translate(400.7 344.4) rotate(-45)" font-size="7.6" text-anchor="end"><tspan font-style="italic">Sf3b1</tspan><tspan font-size="4.6" dy="-2.89">+/+</tspan></text>
<text transform="translate(293.4 344.4) rotate(-45)" font-size="7.6" text-anchor="end"><tspan font-style="italic">Sf3b1</tspan><tspan font-size="4.2" dy="-2.89">+/K700E</tspan></text>
<text transform="translate(360.4 344.4) rotate(-45)" font-size="7.6" text-anchor="end"><tspan font-style="italic">Sf3b1</tspan><tspan font-size="4.2" dy="-2.89">+/K700E</tspan></text>
<text transform="translate(419.3 344.4) rotate(-45)" font-size="7.6" text-anchor="end"><tspan font-style="italic">Sf3b1</tspan><tspan font-size="4.2" dy="-2.89">+/K700E</tspan></text>
<rect x="293.7" y="379.7" width="5" height="5" fill="#cdcdcf"/>
<text x="302.6" y="384.7" font-size="6.8">Normal</text>
<rect x="330.7" y="379.7" width="5.2" height="5" fill="#1b6a98"/>
<text x="339.6" y="384.7" font-size="6.8">High B12&amp;Met</text>
<text x="236.9" y="431.5" font-size="12.5" font-weight="bold" fill="#000" style="stroke:#000;stroke-width:0.55px">H</text>
<text x="301" y="449.2" font-size="9.2"><tspan font-style="italic">Sf3b1</tspan><tspan font-size="7" dy="-2.8" font-style="italic">+/+</tspan></text>
<text x="406.5" y="449.6" font-size="9.2"><tspan font-style="italic">Sf3b1</tspan><tspan font-size="7" dy="-2.8" font-style="italic">+/K700E</tspan></text>
<text transform="translate(243.2 498) rotate(-90)" font-size="7.8" style="stroke-width:0.35px" text-anchor="middle" textLength="41.5" lengthAdjust="spacingAndGlyphs">Fold change in</text>
<text transform="translate(254.1 496.6) rotate(-90)" font-size="7.8" style="stroke-width:0.35px" text-anchor="middle" textLength="72.1" lengthAdjust="spacingAndGlyphs">CD45.2+ competitiveness</text>
<line x1="271.3" y1="456.2" x2="271.3" y2="539" stroke="#0a0a0a" stroke-width="1.5"/>
<line x1="268.1" y1="458.8" x2="271.3" y2="458.8" stroke="#1a1a1a" stroke-width="1.2"/>
<text x="265.7" y="461.14" font-size="6.5" text-anchor="end">5</text>
<line x1="268.1" y1="474.7" x2="271.3" y2="474.7" stroke="#1a1a1a" stroke-width="1.2"/>
<text x="265.7" y="477.04" font-size="6.5" text-anchor="end">4</text>
<line x1="268.1" y1="490.6" x2="271.3" y2="490.6" stroke="#1a1a1a" stroke-width="1.2"/>
<text x="265.7" y="492.94" font-size="6.5" text-anchor="end">3</text>
<line x1="268.1" y1="506.6" x2="271.3" y2="506.6" stroke="#1a1a1a" stroke-width="1.2"/>
<text x="265.7" y="508.94" font-size="6.5" text-anchor="end">2</text>
<line x1="268.1" y1="522.5" x2="271.3" y2="522.5" stroke="#1a1a1a" stroke-width="1.2"/>
<text x="265.7" y="524.84" font-size="6.5" text-anchor="end">1</text>
<line x1="268.1" y1="538.4" x2="271.3" y2="538.4" stroke="#1a1a1a" stroke-width="1.2"/>
<text x="265.7" y="540.74" font-size="6.5" text-anchor="end">0</text>
<line x1="275.9" y1="511.9" x2="275.9" y2="537" stroke="#8a8a8a" stroke-width="0.9"/>
<rect x="273.3" y="516.3" width="5.2" height="18.3" fill="#d6d4da"/>
<line x1="273.3" y1="525.44" x2="278.5" y2="525.44" stroke="#1a1a1a" stroke-width="0.7"/>
<circle cx="275.9" cy="511.9" r="1" fill="#111"/>
<circle cx="275.9" cy="537" r="1" fill="#111"/>
<circle cx="276.92" cy="516.15" r="0.9" fill="#111"/>
<circle cx="275.45" cy="522.55" r="0.9" fill="#111"/>
<circle cx="275.22" cy="527.65" r="0.9" fill="#111"/>
<circle cx="274.36" cy="535.37" r="0.9" fill="#111"/>
<line x1="281.9" y1="508.7" x2="281.9" y2="536" stroke="#8a8a8a" stroke-width="0.9"/>
<rect x="279.6" y="509.2" width="4.6" height="24.5" fill="#1b6a98"/>
<line x1="279.6" y1="524.6" x2="284.2" y2="524.6" stroke="#1a1a1a" stroke-width="0.7"/>
<circle cx="281.9" cy="508.7" r="1" fill="#111"/>
<circle cx="281.9" cy="536" r="1" fill="#111"/>
<circle cx="282.8" cy="507.95" r="0.9" fill="#111"/>
<circle cx="281.78" cy="517.28" r="0.9" fill="#111"/>
<circle cx="282.43" cy="526.19" r="0.9" fill="#111"/>
<circle cx="280.57" cy="532.42" r="0.9" fill="#111"/>
<line x1="292.3" y1="511.5" x2="292.3" y2="536" stroke="#8a8a8a" stroke-width="0.9"/>
<rect x="290" y="515.4" width="4.6" height="17.3" fill="#d6d4da"/>
<line x1="290" y1="526.45" x2="294.6" y2="526.45" stroke="#1a1a1a" stroke-width="0.7"/>
<circle cx="292.3" cy="511.5" r="1" fill="#111"/>
<circle cx="292.3" cy="536" r="1" fill="#111"/>
<circle cx="292.81" cy="514.91" r="0.9" fill="#111"/>
<circle cx="293.83" cy="520.41" r="0.9" fill="#111"/>
<circle cx="291.84" cy="526.53" r="0.9" fill="#111"/>
<circle cx="290.84" cy="532.16" r="0.9" fill="#111"/>
<line x1="298" y1="510" x2="298" y2="536" stroke="#8a8a8a" stroke-width="0.9"/>
<rect x="295.8" y="511.5" width="4.4" height="22.2" fill="#1b6a98"/>
<line x1="295.8" y1="525.07" x2="300.2" y2="525.07" stroke="#1a1a1a" stroke-width="0.7"/>
<circle cx="298" cy="510" r="1" fill="#111"/>
<circle cx="298" cy="536" r="1" fill="#111"/>
<circle cx="299.1" cy="512.19" r="0.9" fill="#111"/>
<circle cx="299.39" cy="518.38" r="0.9" fill="#111"/>
<circle cx="297.73" cy="526.98" r="0.9" fill="#111"/>
<circle cx="297.83" cy="535.03" r="0.9" fill="#111"/>
<line x1="307.5" y1="510.8" x2="307.5" y2="536.5" stroke="#8a8a8a" stroke-width="0.9"/>
<rect x="305.2" y="514.6" width="4.6" height="20.2" fill="#d6d4da"/>
<line x1="305.2" y1="527.41" x2="309.8" y2="527.41" stroke="#1a1a1a" stroke-width="0.7"/>
<circle cx="307.5" cy="510.8" r="1" fill="#111"/>
<circle cx="307.5" cy="536.5" r="1" fill="#111"/>
<circle cx="306.99" cy="513.4" r="0.9" fill="#111"/>
<circle cx="307.73" cy="520.62" r="0.9" fill="#111"/>
<circle cx="306.76" cy="526.6" r="0.9" fill="#111"/>
<circle cx="307.98" cy="534.61" r="0.9" fill="#111"/>
<line x1="313.3" y1="507" x2="313.3" y2="537" stroke="#8a8a8a" stroke-width="0.9"/>
<rect x="310.8" y="511.2" width="5" height="24.2" fill="#1b6a98"/>
<line x1="310.8" y1="522.84" x2="315.8" y2="522.84" stroke="#1a1a1a" stroke-width="0.7"/>
<circle cx="313.3" cy="507" r="1" fill="#111"/>
<circle cx="313.3" cy="537" r="1" fill="#111"/>
<circle cx="313.31" cy="510.99" r="0.9" fill="#111"/>
<circle cx="313.46" cy="518.72" r="0.9" fill="#111"/>
<circle cx="314.26" cy="525.74" r="0.9" fill="#111"/>
<circle cx="312.14" cy="535.13" r="0.9" fill="#111"/>
<line x1="323.2" y1="507.9" x2="323.2" y2="536" stroke="#8a8a8a" stroke-width="0.9"/>
<rect x="320.9" y="513.7" width="4.6" height="19.2" fill="#d6d4da"/>
<line x1="320.9" y1="525.66" x2="325.5" y2="525.66" stroke="#1a1a1a" stroke-width="0.7"/>
<circle cx="323.2" cy="507.9" r="1" fill="#111"/>
<circle cx="323.2" cy="536" r="1" fill="#111"/>
<circle cx="322.4" cy="514.02" r="0.9" fill="#111"/>
<circle cx="321.7" cy="519.98" r="0.9" fill="#111"/>
<circle cx="323.06" cy="526.83" r="0.9" fill="#111"/>
<circle cx="323.38" cy="533.31" r="0.9" fill="#111"/>
<line x1="328.95" y1="506.5" x2="328.95" y2="537" stroke="#8a8a8a" stroke-width="0.9"/>
<rect x="326.6" y="512.3" width="4.7" height="22.5" fill="#1b6a98"/>
<line x1="326.6" y1="526.71" x2="331.3" y2="526.71" stroke="#1a1a1a" stroke-width="0.7"/>
<circle cx="328.95" cy="506.5" r="1" fill="#111"/>
<circle cx="328.95" cy="537" r="1" fill="#111"/>
<circle cx="327.63" cy="512.24" r="0.9" fill="#111"/>
<circle cx="329.18" cy="518.84" r="0.9" fill="#111"/>
<circle cx="327.34" cy="527.29" r="0.9" fill="#111"/>
<circle cx="329.7" cy="535.98" r="0.9" fill="#111"/>
<line x1="339.15" y1="510.8" x2="339.15" y2="536" stroke="#8a8a8a" stroke-width="0.9"/>
<rect x="336.9" y="514.6" width="4.5" height="20.2" fill="#d6d4da"/>
<line x1="336.9" y1="523.96" x2="341.4" y2="523.96" stroke="#1a1a1a" stroke-width="0.7"/>
<circle cx="339.15" cy="510.8" r="1" fill="#111"/>
<circle cx="339.15" cy="536" r="1" fill="#111"/>
<circle cx="338.32" cy="514.25" r="0.9" fill="#111"/>
<circle cx="340.16" cy="520.46" r="0.9" fill="#111"/>
<circle cx="339.1" cy="527.53" r="0.9" fill="#111"/>
<circle cx="339.64" cy="534.49" r="0.9" fill="#111"/>
<line x1="344.8" y1="509.8" x2="344.8" y2="537" stroke="#8a8a8a" stroke-width="0.9"/>
<rect x="342.4" y="513.7" width="4.8" height="21.1" fill="#1b6a98"/>
<line x1="342.4" y1="526.37" x2="347.2" y2="526.37" stroke="#1a1a1a" stroke-width="0.7"/>
<circle cx="344.8" cy="509.8" r="1" fill="#111"/>
<circle cx="344.8" cy="537" r="1" fill="#111"/>
<circle cx="345.18" cy="512.81" r="0.9" fill="#111"/>
<circle cx="344.7" cy="520.85" r="0.9" fill="#111"/>
<circle cx="345.04" cy="526.29" r="0.9" fill="#111"/>
<circle cx="345.81" cy="533.77" r="0.9" fill="#111"/>
<line x1="355.3" y1="500.2" x2="355.3" y2="536" stroke="#8a8a8a" stroke-width="0.9"/>
<rect x="352.9" y="507.9" width="4.8" height="25.9" fill="#d6d4da"/>
<line x1="352.9" y1="523.76" x2="357.7" y2="523.76" stroke="#1a1a1a" stroke-width="0.7"/>
<circle cx="355.3" cy="500.2" r="1" fill="#111"/>
<circle cx="355.3" cy="536" r="1" fill="#111"/>
<circle cx="356.74" cy="509.43" r="0.9" fill="#111"/>
<circle cx="354.42" cy="515.96" r="0.9" fill="#111"/>
<circle cx="356.53" cy="525.41" r="0.9" fill="#111"/>
<circle cx="354.84" cy="532.98" r="0.9" fill="#111"/>
<line x1="361.1" y1="491.5" x2="361.1" y2="537.5" stroke="#8a8a8a" stroke-width="0.9"/>
<rect x="358.7" y="497.7" width="4.8" height="39" fill="#1b6a98"/>
<line x1="358.7" y1="522.82" x2="363.5" y2="522.82" stroke="#1a1a1a" stroke-width="0.7"/>
<circle cx="361.1" cy="491.5" r="1" fill="#111"/>
<circle cx="361.1" cy="537.5" r="1" fill="#111"/>
<circle cx="362.69" cy="500.03" r="0.9" fill="#111"/>
<circle cx="359.47" cy="510.81" r="0.9" fill="#111"/>
<circle cx="359.76" cy="525.37" r="0.9" fill="#111"/>
<circle cx="360.11" cy="536.54" r="0.9" fill="#111"/>
<line x1="270.6" y1="538.4" x2="364.4" y2="538.4" stroke="#0a0a0a" stroke-width="1.5"/>
<line x1="279" y1="538.4" x2="279" y2="541" stroke="#1a1a1a" stroke-width="1"/>
<line x1="294.9" y1="538.4" x2="294.9" y2="541" stroke="#1a1a1a" stroke-width="1"/>
<line x1="310.8" y1="538.4" x2="310.8" y2="541" stroke="#1a1a1a" stroke-width="1"/>
<line x1="326.7" y1="538.4" x2="326.7" y2="541" stroke="#1a1a1a" stroke-width="1"/>
<line x1="342.5" y1="538.4" x2="342.5" y2="541" stroke="#1a1a1a" stroke-width="1"/>
<line x1="358.3" y1="538.4" x2="358.3" y2="541" stroke="#1a1a1a" stroke-width="1"/>
<line x1="388.1" y1="456.5" x2="388.1" y2="539" stroke="#0a0a0a" stroke-width="1.5"/>
<line x1="384.9" y1="458.8" x2="388.1" y2="458.8" stroke="#1a1a1a" stroke-width="1.2"/>
<text x="381.8" y="461.14" font-size="6.5" text-anchor="end">5</text>
<line x1="384.9" y1="474.7" x2="388.1" y2="474.7" stroke="#1a1a1a" stroke-width="1.2"/>
<text x="381.8" y="477.04" font-size="6.5" text-anchor="end">4</text>
<line x1="384.9" y1="490.6" x2="388.1" y2="490.6" stroke="#1a1a1a" stroke-width="1.2"/>
<text x="381.8" y="492.94" font-size="6.5" text-anchor="end">3</text>
<line x1="384.9" y1="506.6" x2="388.1" y2="506.6" stroke="#1a1a1a" stroke-width="1.2"/>
<text x="381.8" y="508.94" font-size="6.5" text-anchor="end">2</text>
<line x1="384.9" y1="522.5" x2="388.1" y2="522.5" stroke="#1a1a1a" stroke-width="1.2"/>
<text x="381.8" y="524.84" font-size="6.5" text-anchor="end">1</text>
<line x1="384.9" y1="538.4" x2="388.1" y2="538.4" stroke="#1a1a1a" stroke-width="1.2"/>
<text x="381.8" y="540.74" font-size="6.5" text-anchor="end">0</text>
<line x1="392" y1="500.2" x2="392" y2="536" stroke="#8a8a8a" stroke-width="0.9"/>
<rect x="389.8" y="506.9" width="4.4" height="26.9" fill="#d6d4da"/>
<line x1="389.8" y1="523.18" x2="394.2" y2="523.18" stroke="#1a1a1a" stroke-width="0.7"/>
<circle cx="392" cy="500.2" r="1" fill="#111"/>
<circle cx="392" cy="536" r="1" fill="#111"/>
<circle cx="392.86" cy="506.59" r="0.9" fill="#111"/>
<circle cx="392.34" cy="516.29" r="0.9" fill="#111"/>
<circle cx="393.17" cy="524.97" r="0.9" fill="#111"/>
<circle cx="390.5" cy="534.48" r="0.9" fill="#111"/>
<line x1="397.2" y1="513.7" x2="397.2" y2="532.9" stroke="#8a8a8a" stroke-width="0.9"/>
<rect x="395" y="514.6" width="4.4" height="11.9" fill="#1b6a98"/>
<line x1="395" y1="520.58" x2="399.4" y2="520.58" stroke="#1a1a1a" stroke-width="0.7"/>
<circle cx="397.2" cy="513.7" r="1" fill="#111"/>
<circle cx="397.2" cy="532.9" r="1" fill="#111"/>
<circle cx="397.74" cy="513.9" r="0.9" fill="#111"/>
<circle cx="398.29" cy="518.04" r="0.9" fill="#111"/>
<circle cx="396.42" cy="522.28" r="0.9" fill="#111"/>
<circle cx="398.69" cy="526.63" r="0.9" fill="#111"/>
<line x1="407.4" y1="510.8" x2="407.4" y2="534.8" stroke="#8a8a8a" stroke-width="0.9"/>
<rect x="405.2" y="513.7" width="4.4" height="17.3" fill="#d6d4da"/>
<line x1="405.2" y1="524.04" x2="409.6" y2="524.04" stroke="#1a1a1a" stroke-width="0.7"/>
<circle cx="407.4" cy="510.8" r="1" fill="#111"/>
<circle cx="407.4" cy="534.8" r="1" fill="#111"/>
<circle cx="407.39" cy="513.76" r="0.9" fill="#111"/>
<circle cx="406.98" cy="518.83" r="0.9" fill="#111"/>
<circle cx="407.99" cy="523.96" r="0.9" fill="#111"/>
<circle cx="408.01" cy="531.12" r="0.9" fill="#111"/>
<line x1="412.9" y1="484.8" x2="412.9" y2="525.2" stroke="#8a8a8a" stroke-width="0.9"/>
<rect x="410.6" y="491.9" width="4.6" height="27.5" fill="#1b6a98"/>
<line x1="410.6" y1="504.42" x2="415.2" y2="504.42" stroke="#1a1a1a" stroke-width="0.7"/>
<circle cx="412.9" cy="484.8" r="1" fill="#111"/>
<circle cx="412.9" cy="525.2" r="1" fill="#111"/>
<circle cx="414.28" cy="492.62" r="0.9" fill="#111"/>
<circle cx="413.3" cy="499.13" r="0.9" fill="#111"/>
<circle cx="411.84" cy="509.96" r="0.9" fill="#111"/>
<circle cx="413.07" cy="519.66" r="0.9" fill="#111"/>
<line x1="422.8" y1="512.7" x2="422.8" y2="535.8" stroke="#8a8a8a" stroke-width="0.9"/>
<rect x="420.6" y="514.6" width="4.4" height="18.3" fill="#d6d4da"/>
<line x1="420.6" y1="524.05" x2="425" y2="524.05" stroke="#1a1a1a" stroke-width="0.7"/>
<circle cx="422.8" cy="512.7" r="1" fill="#111"/>
<circle cx="422.8" cy="535.8" r="1" fill="#111"/>
<circle cx="422.06" cy="515.25" r="0.9" fill="#111"/>
<circle cx="423.09" cy="520.68" r="0.9" fill="#111"/>
<circle cx="421.96" cy="526.3" r="0.9" fill="#111"/>
<circle cx="423.06" cy="533.04" r="0.9" fill="#111"/>
<line x1="428.4" y1="465.6" x2="428.4" y2="518.5" stroke="#8a8a8a" stroke-width="0.9"/>
<rect x="426" y="476.2" width="4.8" height="40" fill="#1b6a98"/>
<line x1="426" y1="495.29" x2="430.8" y2="495.29" stroke="#1a1a1a" stroke-width="0.7"/>
<circle cx="428.4" cy="465.6" r="1" fill="#111"/>
<circle cx="428.4" cy="518.5" r="1" fill="#111"/>
<circle cx="427.97" cy="473.91" r="0.9" fill="#111"/>
<circle cx="428.73" cy="489.88" r="0.9" fill="#111"/>
<circle cx="427.55" cy="500.94" r="0.9" fill="#111"/>
<circle cx="428.84" cy="515.01" r="0.9" fill="#111"/>
<line x1="438.4" y1="513.7" x2="438.4" y2="534.8" stroke="#8a8a8a" stroke-width="0.9"/>
<rect x="436" y="518.5" width="4.8" height="12.5" fill="#d6d4da"/>
<line x1="436" y1="526.34" x2="440.8" y2="526.34" stroke="#1a1a1a" stroke-width="0.7"/>
<circle cx="438.4" cy="513.7" r="1" fill="#111"/>
<circle cx="438.4" cy="534.8" r="1" fill="#111"/>
<circle cx="437.9" cy="518.81" r="0.9" fill="#111"/>
<circle cx="438.34" cy="521.7" r="0.9" fill="#111"/>
<circle cx="439.01" cy="526.98" r="0.9" fill="#111"/>
<circle cx="438.57" cy="530.63" r="0.9" fill="#111"/>
<line x1="443.9" y1="494.4" x2="443.9" y2="513" stroke="#8a8a8a" stroke-width="0.9"/>
<rect x="441.3" y="496.9" width="5.2" height="15.4" fill="#1b6a98"/>
<line x1="441.3" y1="504.8" x2="446.5" y2="504.8" stroke="#1a1a1a" stroke-width="0.7"/>
<circle cx="443.9" cy="494.4" r="1" fill="#111"/>
<circle cx="443.9" cy="513" r="1" fill="#111"/>
<circle cx="444.31" cy="497.45" r="0.9" fill="#111"/>
<circle cx="442.24" cy="500.71" r="0.9" fill="#111"/>
<circle cx="444.51" cy="506.27" r="0.9" fill="#111"/>
<circle cx="443.45" cy="512.33" r="0.9" fill="#111"/>
<line x1="453.75" y1="500.2" x2="453.75" y2="536.2" stroke="#8a8a8a" stroke-width="0.9"/>
<rect x="451.3" y="505" width="4.9" height="29.8" fill="#d6d4da"/>
<line x1="451.3" y1="523.58" x2="456.2" y2="523.58" stroke="#1a1a1a" stroke-width="0.7"/>
<circle cx="453.75" cy="500.2" r="1" fill="#111"/>
<circle cx="453.75" cy="536.2" r="1" fill="#111"/>
<circle cx="454.41" cy="503.63" r="0.9" fill="#111"/>
<circle cx="453.61" cy="514.1" r="0.9" fill="#111"/>
<circle cx="453.43" cy="523.03" r="0.9" fill="#111"/>
<circle cx="453.01" cy="533.08" r="0.9" fill="#111"/>
<line x1="459.5" y1="481" x2="459.5" y2="535.8" stroke="#8a8a8a" stroke-width="0.9"/>
<rect x="457.1" y="488.1" width="4.8" height="40.4" fill="#1b6a98"/>
<line x1="457.1" y1="512.29" x2="461.9" y2="512.29" stroke="#1a1a1a" stroke-width="0.7"/>
<circle cx="459.5" cy="481" r="1" fill="#111"/>
<circle cx="459.5" cy="535.8" r="1" fill="#111"/>
<circle cx="459" cy="489.09" r="0.9" fill="#111"/>
<circle cx="461.1" cy="501.54" r="0.9" fill="#111"/>
<circle cx="460.15" cy="514.04" r="0.9" fill="#111"/>
<circle cx="460.92" cy="528.75" r="0.9" fill="#111"/>
<line x1="469.3" y1="514.6" x2="469.3" y2="535.4" stroke="#8a8a8a" stroke-width="0.9"/>
<rect x="466.7" y="514.6" width="5.2" height="17.3" fill="#d6d4da"/>
<line x1="466.7" y1="524.57" x2="471.9" y2="524.57" stroke="#1a1a1a" stroke-width="0.7"/>
<circle cx="469.3" cy="514.6" r="1" fill="#111"/>
<circle cx="469.3" cy="535.4" r="1" fill="#111"/>
<circle cx="467.71" cy="514.73" r="0.9" fill="#111"/>
<circle cx="469.66" cy="519.42" r="0.9" fill="#111"/>
<circle cx="470.67" cy="525.75" r="0.9" fill="#111"/>
<circle cx="470.94" cy="531.18" r="0.9" fill="#111"/>
<line x1="475.3" y1="470.4" x2="475.3" y2="524.2" stroke="#8a8a8a" stroke-width="0.9"/>
<rect x="472.9" y="479.6" width="4.8" height="36" fill="#1b6a98"/>
<line x1="472.9" y1="501.43" x2="477.7" y2="501.43" stroke="#1a1a1a" stroke-width="0.7"/>
<circle cx="475.3" cy="470.4" r="1" fill="#111"/>
<circle cx="475.3" cy="524.2" r="1" fill="#111"/>
<circle cx="476.25" cy="480.85" r="0.9" fill="#111"/>
<circle cx="475.04" cy="488.76" r="0.9" fill="#111"/>
<circle cx="475.55" cy="501.27" r="0.9" fill="#111"/>
<circle cx="474.33" cy="515.76" r="0.9" fill="#111"/>
<path d="M421.5 501.2V460.8H429.2V463.1" fill="none" stroke="#6e6e6e" stroke-width="0.9"/>
<path d="M425.4 456.7l0 2.2M424.45 457.25l1.9 1.1M424.45 458.35l1.9 -1.1" stroke="#222" stroke-width="0.75" fill="none"/>
<path d="M437.3 503.1V487.3H444.6V494.4" fill="none" stroke="#6e6e6e" stroke-width="0.9"/>
<path d="M440.8 483.2l0 2.2M439.85 483.75l1.9 1.1M439.85 484.85l1.9 -1.1" stroke="#222" stroke-width="0.75" fill="none"/>
<path d="M466.2 483.8V466.2H473.8V468.1" fill="none" stroke="#6e6e6e" stroke-width="0.9"/>
<path d="M470.6 462.1l0 2.2M469.65 462.65l1.9 1.1M469.65 463.75l1.9 -1.1" stroke="#222" stroke-width="0.75" fill="none"/>
<line x1="387.4" y1="538.4" x2="478.8" y2="538.4" stroke="#0a0a0a" stroke-width="1.5"/>
<line x1="394.2" y1="538.4" x2="394.2" y2="541" stroke="#1a1a1a" stroke-width="1"/>
<line x1="409.8" y1="538.4" x2="409.8" y2="541" stroke="#1a1a1a" stroke-width="1"/>
<line x1="425.4" y1="538.4" x2="425.4" y2="541" stroke="#1a1a1a" stroke-width="1"/>
<line x1="441" y1="538.4" x2="441" y2="541" stroke="#1a1a1a" stroke-width="1"/>
<line x1="456.6" y1="538.4" x2="456.6" y2="541" stroke="#1a1a1a" stroke-width="1"/>
<line x1="472.2" y1="538.4" x2="472.2" y2="541" stroke="#1a1a1a" stroke-width="1"/>
<text transform="translate(281.4 549.8) rotate(-45)" font-size="6.8" text-anchor="end">Total BM</text>
<text transform="translate(297.3 549.8) rotate(-45)" font-size="6.8" text-anchor="end">Lin&#8722;</text>
<text transform="translate(313.2 549.8) rotate(-45)" font-size="6.8" text-anchor="end">LK</text>
<text transform="translate(329.1 549.8) rotate(-45)" font-size="6.8" text-anchor="end">LSK</text>
<text transform="translate(344.9 549.8) rotate(-45)" font-size="6.8" text-anchor="end" textLength="49.5" lengthAdjust="spacingAndGlyphs">CD150+CD48&#8722;</text>
<text transform="translate(360.7 549.8) rotate(-45)" font-size="6.8" text-anchor="end" textLength="49.5" lengthAdjust="spacingAndGlyphs">CD150&#8722;CD48+</text>
<text transform="translate(397 549.8) rotate(-45)" font-size="6.8" text-anchor="end">Total BM</text>
<text transform="translate(412.6 549.8) rotate(-45)" font-size="6.8" text-anchor="end">Lin&#8722;</text>
<text transform="translate(428.2 549.8) rotate(-45)" font-size="6.8" text-anchor="end">LK</text>
<text transform="translate(443.8 549.8) rotate(-45)" font-size="6.8" text-anchor="end">LSK</text>
<text transform="translate(459.4 549.8) rotate(-45)" font-size="6.8" text-anchor="end" textLength="49.5" lengthAdjust="spacingAndGlyphs">CD150+CD48&#8722;</text>
<text transform="translate(475 549.8) rotate(-45)" font-size="6.8" text-anchor="end" textLength="49.5" lengthAdjust="spacingAndGlyphs">CD150&#8722;CD48+</text>
<rect x="312.4" y="597.8" width="5.5" height="5.4" fill="#cdcdcf"/>
<text x="321.3" y="603" font-size="6.8">Normal</text>
<rect x="348.7" y="597.8" width="5.7" height="5.4" fill="#1b6a98"/>
<text x="358" y="603" font-size="6.8">High B12&amp;Met</text>
<rect x="0" y="0" width="520" height="1" fill="#2e2e2e"/>
<rect x="0" y="0" width="1" height="621" fill="#3c3c3c"/>
<rect x="518" y="0" width="1" height="621" fill="#9a9a9a"/>
<rect x="519" y="0" width="1" height="621" fill="#1e1e1e"/>
<rect x="0" y="619" width="520" height="1" fill="#9a9a9a"/>
<rect x="0" y="620" width="520" height="1" fill="#1e1e1e"/>
</svg></body></html>
